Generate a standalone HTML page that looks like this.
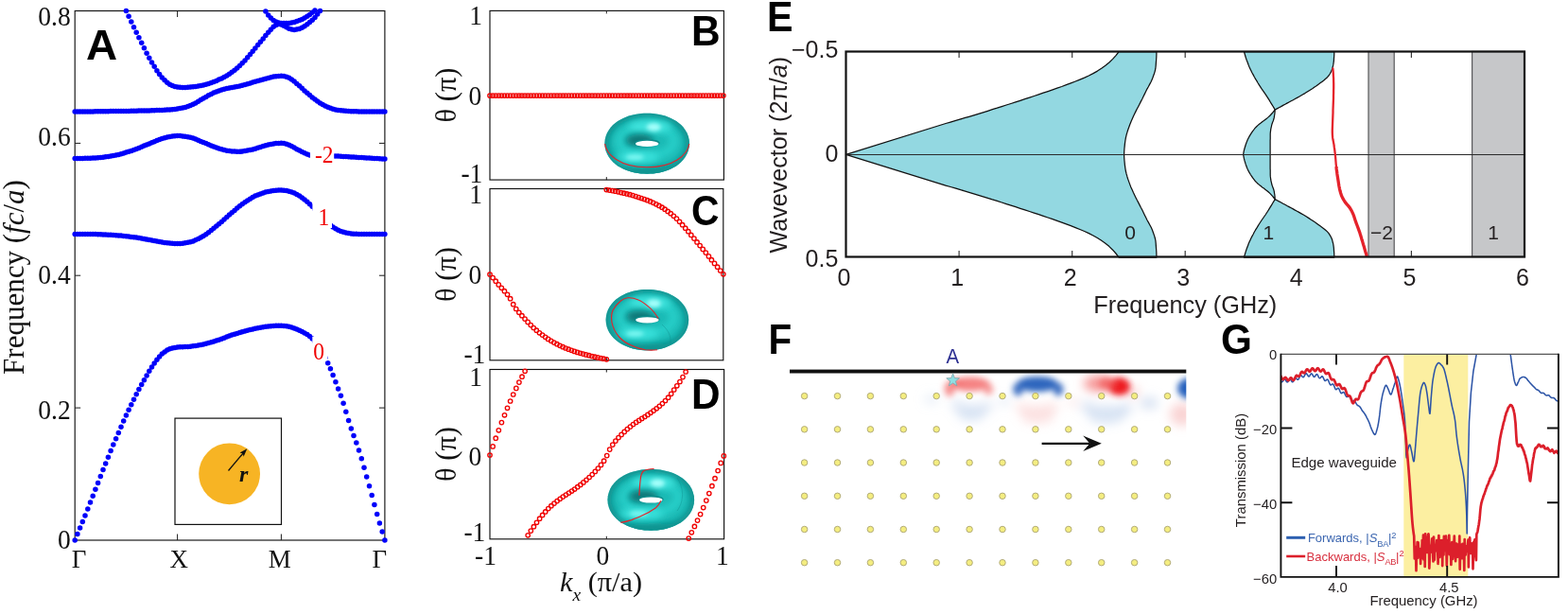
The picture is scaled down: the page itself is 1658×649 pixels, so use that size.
<!DOCTYPE html>
<html lang="en">
<head>
<meta charset="utf-8">
<title>Figure: photonic band structure, Chern numbers and edge-state transmission</title>
<style>
html,body{margin:0;padding:0;background:#fff;}
body{width:1658px;height:649px;overflow:hidden;font-family:"Liberation Sans","DejaVu Sans",sans-serif;}
svg{display:block;}
</style>
</head>
<body>
<svg width="1658" height="649" viewBox="0 0 1658 649">
<rect x="0" y="0" width="1658" height="649" fill="#ffffff"/>
<g id="panelA">
<rect x="79.2" y="11.5" width="327.7" height="559.5" fill="#fff" stroke="#111" stroke-width="1.15"/>
<path d="M79.2 431.1 h6 M406.9 431.1 h-6 M79.2 291.2 h6 M406.9 291.2 h-6 M79.2 151.4 h6 M406.9 151.4 h-6 M187.6 571.0 v-6.5 M187.6 11.5 v6.5 M297.4 571.0 v-6.5 M297.4 11.5 v6.5" stroke="#1a1a1a" stroke-width="1" fill="none"/>
<g fill="#0000fa"><circle cx="79.2" cy="571.0" r="2.75"/><circle cx="81.9" cy="564.6" r="2.75"/><circle cx="84.6" cy="558.1" r="2.75"/><circle cx="87.3" cy="551.6" r="2.75"/><circle cx="90.0" cy="544.9" r="2.75"/><circle cx="92.8" cy="538.1" r="2.75"/><circle cx="95.5" cy="531.1" r="2.75"/><circle cx="98.2" cy="524.2" r="2.75"/><circle cx="100.9" cy="517.3" r="2.75"/><circle cx="103.6" cy="510.4" r="2.75"/><circle cx="106.3" cy="503.5" r="2.75"/><circle cx="109.0" cy="496.6" r="2.75"/><circle cx="111.7" cy="489.9" r="2.75"/><circle cx="114.4" cy="483.2" r="2.75"/><circle cx="117.1" cy="476.6" r="2.75"/><circle cx="119.8" cy="470.1" r="2.75"/><circle cx="122.6" cy="463.7" r="2.75"/><circle cx="125.3" cy="457.4" r="2.75"/><circle cx="128.0" cy="451.2" r="2.75"/><circle cx="130.7" cy="445.1" r="2.75"/><circle cx="133.4" cy="439.1" r="2.75"/><circle cx="136.1" cy="433.3" r="2.75"/><circle cx="138.8" cy="427.7" r="2.75"/><circle cx="141.5" cy="422.2" r="2.75"/><circle cx="144.2" cy="416.8" r="2.75"/><circle cx="146.9" cy="411.6" r="2.75"/><circle cx="149.7" cy="406.6" r="2.75"/><circle cx="152.4" cy="401.7" r="2.75"/><circle cx="155.1" cy="396.9" r="2.75"/><circle cx="157.8" cy="392.3" r="2.75"/><circle cx="160.5" cy="387.9" r="2.75"/><circle cx="163.2" cy="384.0" r="2.75"/><circle cx="165.9" cy="380.3" r="2.75"/><circle cx="168.6" cy="376.9" r="2.75"/><circle cx="171.3" cy="374.1" r="2.75"/><circle cx="174.1" cy="371.9" r="2.75"/><circle cx="176.8" cy="370.0" r="2.75"/><circle cx="179.5" cy="368.7" r="2.75"/><circle cx="182.2" cy="367.9" r="2.75"/><circle cx="184.9" cy="367.4" r="2.75"/><circle cx="187.6" cy="367.0" r="2.75"/><circle cx="190.3" cy="366.8" r="2.75"/><circle cx="193.1" cy="366.7" r="2.75"/><circle cx="195.8" cy="366.6" r="2.75"/><circle cx="198.6" cy="366.4" r="2.75"/><circle cx="201.3" cy="366.2" r="2.75"/><circle cx="204.1" cy="365.8" r="2.75"/><circle cx="206.8" cy="365.4" r="2.75"/><circle cx="209.6" cy="364.9" r="2.75"/><circle cx="212.3" cy="364.4" r="2.75"/><circle cx="215.0" cy="363.9" r="2.75"/><circle cx="217.8" cy="363.2" r="2.75"/><circle cx="220.5" cy="362.5" r="2.75"/><circle cx="223.3" cy="361.8" r="2.75"/><circle cx="226.0" cy="361.0" r="2.75"/><circle cx="228.8" cy="360.1" r="2.75"/><circle cx="231.5" cy="359.2" r="2.75"/><circle cx="234.3" cy="358.2" r="2.75"/><circle cx="237.0" cy="357.2" r="2.75"/><circle cx="239.8" cy="356.1" r="2.75"/><circle cx="242.5" cy="355.1" r="2.75"/><circle cx="245.2" cy="354.1" r="2.75"/><circle cx="248.0" cy="353.2" r="2.75"/><circle cx="250.7" cy="352.4" r="2.75"/><circle cx="253.5" cy="351.6" r="2.75"/><circle cx="256.2" cy="350.8" r="2.75"/><circle cx="259.0" cy="350.0" r="2.75"/><circle cx="261.7" cy="349.3" r="2.75"/><circle cx="264.5" cy="348.5" r="2.75"/><circle cx="267.2" cy="347.9" r="2.75"/><circle cx="269.9" cy="347.3" r="2.75"/><circle cx="272.7" cy="346.7" r="2.75"/><circle cx="275.4" cy="346.2" r="2.75"/><circle cx="278.2" cy="345.8" r="2.75"/><circle cx="280.9" cy="345.3" r="2.75"/><circle cx="283.7" cy="345.0" r="2.75"/><circle cx="286.4" cy="344.7" r="2.75"/><circle cx="289.2" cy="344.4" r="2.75"/><circle cx="291.9" cy="344.3" r="2.75"/><circle cx="294.7" cy="344.2" r="2.75"/><circle cx="297.4" cy="344.2" r="2.75"/><circle cx="300.1" cy="344.4" r="2.75"/><circle cx="302.9" cy="344.8" r="2.75"/><circle cx="305.6" cy="345.3" r="2.75"/><circle cx="308.3" cy="346.1" r="2.75"/><circle cx="311.1" cy="347.1" r="2.75"/><circle cx="313.8" cy="348.1" r="2.75"/><circle cx="316.6" cy="349.3" r="2.75"/><circle cx="319.3" cy="350.5" r="2.75"/><circle cx="322.0" cy="352.0" r="2.75"/><circle cx="324.8" cy="353.6" r="2.75"/><circle cx="327.5" cy="355.5" r="2.75"/><circle cx="330.2" cy="358.0" r="2.75"/><circle cx="333.0" cy="361.1" r="2.75"/><circle cx="335.7" cy="364.8" r="2.75"/><circle cx="338.5" cy="368.7" r="2.75"/><circle cx="341.2" cy="373.1" r="2.75"/><circle cx="343.9" cy="378.2" r="2.75"/><circle cx="346.7" cy="383.8" r="2.75"/><circle cx="349.4" cy="389.8" r="2.75"/><circle cx="352.1" cy="396.6" r="2.75"/><circle cx="354.9" cy="403.7" r="2.75"/><circle cx="357.6" cy="410.9" r="2.75"/><circle cx="360.4" cy="418.3" r="2.75"/><circle cx="363.1" cy="426.3" r="2.75"/><circle cx="365.8" cy="435.3" r="2.75"/><circle cx="368.6" cy="444.5" r="2.75"/><circle cx="371.3" cy="452.9" r="2.75"/><circle cx="374.0" cy="460.6" r="2.75"/><circle cx="376.8" cy="468.1" r="2.75"/><circle cx="379.5" cy="476.0" r="2.75"/><circle cx="382.3" cy="484.8" r="2.75"/><circle cx="385.0" cy="494.2" r="2.75"/><circle cx="387.7" cy="504.0" r="2.75"/><circle cx="390.5" cy="513.7" r="2.75"/><circle cx="393.2" cy="523.6" r="2.75"/><circle cx="395.9" cy="533.6" r="2.75"/><circle cx="398.7" cy="543.4" r="2.75"/><circle cx="401.4" cy="552.9" r="2.75"/><circle cx="404.2" cy="562.1" r="2.75"/><circle cx="406.9" cy="571.0" r="2.75"/></g>
<g fill="#0000fa"><circle cx="79.2" cy="247.5" r="2.75"/><circle cx="81.9" cy="247.5" r="2.75"/><circle cx="84.6" cy="247.5" r="2.75"/><circle cx="87.3" cy="247.5" r="2.75"/><circle cx="90.0" cy="247.5" r="2.75"/><circle cx="92.8" cy="247.5" r="2.75"/><circle cx="95.5" cy="247.6" r="2.75"/><circle cx="98.2" cy="247.6" r="2.75"/><circle cx="100.9" cy="247.6" r="2.75"/><circle cx="103.6" cy="247.7" r="2.75"/><circle cx="106.3" cy="247.8" r="2.75"/><circle cx="109.0" cy="247.9" r="2.75"/><circle cx="111.7" cy="248.0" r="2.75"/><circle cx="114.4" cy="248.2" r="2.75"/><circle cx="117.1" cy="248.3" r="2.75"/><circle cx="119.8" cy="248.5" r="2.75"/><circle cx="122.6" cy="248.7" r="2.75"/><circle cx="125.3" cy="248.9" r="2.75"/><circle cx="128.0" cy="249.1" r="2.75"/><circle cx="130.7" cy="249.4" r="2.75"/><circle cx="133.4" cy="249.7" r="2.75"/><circle cx="136.1" cy="250.0" r="2.75"/><circle cx="138.8" cy="250.4" r="2.75"/><circle cx="141.5" cy="250.7" r="2.75"/><circle cx="144.2" cy="251.1" r="2.75"/><circle cx="146.9" cy="251.6" r="2.75"/><circle cx="149.7" cy="252.1" r="2.75"/><circle cx="152.4" cy="252.6" r="2.75"/><circle cx="155.1" cy="253.1" r="2.75"/><circle cx="157.8" cy="253.6" r="2.75"/><circle cx="160.5" cy="254.1" r="2.75"/><circle cx="163.2" cy="254.6" r="2.75"/><circle cx="165.9" cy="255.1" r="2.75"/><circle cx="168.6" cy="255.6" r="2.75"/><circle cx="171.3" cy="256.0" r="2.75"/><circle cx="174.1" cy="256.4" r="2.75"/><circle cx="176.8" cy="256.7" r="2.75"/><circle cx="179.5" cy="257.0" r="2.75"/><circle cx="182.2" cy="257.2" r="2.75"/><circle cx="184.9" cy="257.4" r="2.75"/><circle cx="187.6" cy="257.5" r="2.75"/><circle cx="190.3" cy="257.4" r="2.75"/><circle cx="193.1" cy="257.2" r="2.75"/><circle cx="195.8" cy="256.8" r="2.75"/><circle cx="198.6" cy="256.3" r="2.75"/><circle cx="201.3" cy="255.7" r="2.75"/><circle cx="204.1" cy="254.9" r="2.75"/><circle cx="206.8" cy="253.7" r="2.75"/><circle cx="209.6" cy="252.4" r="2.75"/><circle cx="212.3" cy="251.0" r="2.75"/><circle cx="215.0" cy="249.5" r="2.75"/><circle cx="217.8" cy="247.8" r="2.75"/><circle cx="220.5" cy="245.8" r="2.75"/><circle cx="223.3" cy="243.6" r="2.75"/><circle cx="226.0" cy="241.3" r="2.75"/><circle cx="228.8" cy="239.0" r="2.75"/><circle cx="231.5" cy="236.7" r="2.75"/><circle cx="234.3" cy="234.4" r="2.75"/><circle cx="237.0" cy="232.0" r="2.75"/><circle cx="239.8" cy="229.5" r="2.75"/><circle cx="242.5" cy="227.1" r="2.75"/><circle cx="245.2" cy="224.8" r="2.75"/><circle cx="248.0" cy="222.5" r="2.75"/><circle cx="250.7" cy="220.1" r="2.75"/><circle cx="253.5" cy="217.8" r="2.75"/><circle cx="256.2" cy="215.7" r="2.75"/><circle cx="259.0" cy="213.7" r="2.75"/><circle cx="261.7" cy="211.9" r="2.75"/><circle cx="264.5" cy="210.2" r="2.75"/><circle cx="267.2" cy="208.6" r="2.75"/><circle cx="269.9" cy="207.1" r="2.75"/><circle cx="272.7" cy="205.9" r="2.75"/><circle cx="275.4" cy="204.9" r="2.75"/><circle cx="278.2" cy="203.9" r="2.75"/><circle cx="280.9" cy="203.1" r="2.75"/><circle cx="283.7" cy="202.4" r="2.75"/><circle cx="286.4" cy="201.9" r="2.75"/><circle cx="289.2" cy="201.6" r="2.75"/><circle cx="291.9" cy="201.3" r="2.75"/><circle cx="294.7" cy="201.1" r="2.75"/><circle cx="297.4" cy="201.0" r="2.75"/><circle cx="300.1" cy="201.2" r="2.75"/><circle cx="302.9" cy="201.6" r="2.75"/><circle cx="305.6" cy="202.2" r="2.75"/><circle cx="308.3" cy="202.9" r="2.75"/><circle cx="311.1" cy="204.0" r="2.75"/><circle cx="313.8" cy="205.5" r="2.75"/><circle cx="316.6" cy="207.1" r="2.75"/><circle cx="319.3" cy="208.9" r="2.75"/><circle cx="322.0" cy="210.9" r="2.75"/><circle cx="324.8" cy="213.2" r="2.75"/><circle cx="327.5" cy="215.7" r="2.75"/><circle cx="330.2" cy="218.2" r="2.75"/><circle cx="333.0" cy="221.1" r="2.75"/><circle cx="335.7" cy="224.1" r="2.75"/><circle cx="338.5" cy="227.2" r="2.75"/><circle cx="341.2" cy="230.2" r="2.75"/><circle cx="343.9" cy="232.9" r="2.75"/><circle cx="346.7" cy="235.6" r="2.75"/><circle cx="349.4" cy="238.1" r="2.75"/><circle cx="352.1" cy="240.1" r="2.75"/><circle cx="354.9" cy="241.8" r="2.75"/><circle cx="357.6" cy="243.3" r="2.75"/><circle cx="360.4" cy="244.5" r="2.75"/><circle cx="363.1" cy="245.3" r="2.75"/><circle cx="365.8" cy="246.0" r="2.75"/><circle cx="368.6" cy="246.6" r="2.75"/><circle cx="371.3" cy="247.0" r="2.75"/><circle cx="374.0" cy="247.3" r="2.75"/><circle cx="376.8" cy="247.3" r="2.75"/><circle cx="379.5" cy="247.4" r="2.75"/><circle cx="382.3" cy="247.4" r="2.75"/><circle cx="385.0" cy="247.5" r="2.75"/><circle cx="387.7" cy="247.5" r="2.75"/><circle cx="390.5" cy="247.5" r="2.75"/><circle cx="393.2" cy="247.5" r="2.75"/><circle cx="395.9" cy="247.5" r="2.75"/><circle cx="398.7" cy="247.5" r="2.75"/><circle cx="401.4" cy="247.5" r="2.75"/><circle cx="404.2" cy="247.5" r="2.75"/><circle cx="406.9" cy="247.5" r="2.75"/></g>
<g fill="#0000fa"><circle cx="79.2" cy="167.5" r="2.75"/><circle cx="81.9" cy="167.5" r="2.75"/><circle cx="84.6" cy="167.5" r="2.75"/><circle cx="87.3" cy="167.4" r="2.75"/><circle cx="90.0" cy="167.3" r="2.75"/><circle cx="92.8" cy="167.3" r="2.75"/><circle cx="95.5" cy="167.2" r="2.75"/><circle cx="98.2" cy="167.1" r="2.75"/><circle cx="100.9" cy="167.0" r="2.75"/><circle cx="103.6" cy="166.8" r="2.75"/><circle cx="106.3" cy="166.5" r="2.75"/><circle cx="109.0" cy="166.2" r="2.75"/><circle cx="111.7" cy="165.8" r="2.75"/><circle cx="114.4" cy="165.4" r="2.75"/><circle cx="117.1" cy="165.0" r="2.75"/><circle cx="119.8" cy="164.5" r="2.75"/><circle cx="122.6" cy="164.0" r="2.75"/><circle cx="125.3" cy="163.4" r="2.75"/><circle cx="128.0" cy="162.7" r="2.75"/><circle cx="130.7" cy="161.9" r="2.75"/><circle cx="133.4" cy="161.1" r="2.75"/><circle cx="136.1" cy="160.3" r="2.75"/><circle cx="138.8" cy="159.4" r="2.75"/><circle cx="141.5" cy="158.5" r="2.75"/><circle cx="144.2" cy="157.5" r="2.75"/><circle cx="146.9" cy="156.4" r="2.75"/><circle cx="149.7" cy="155.3" r="2.75"/><circle cx="152.4" cy="154.1" r="2.75"/><circle cx="155.1" cy="153.0" r="2.75"/><circle cx="157.8" cy="151.9" r="2.75"/><circle cx="160.5" cy="150.8" r="2.75"/><circle cx="163.2" cy="149.7" r="2.75"/><circle cx="165.9" cy="148.6" r="2.75"/><circle cx="168.6" cy="147.5" r="2.75"/><circle cx="171.3" cy="146.5" r="2.75"/><circle cx="174.1" cy="145.7" r="2.75"/><circle cx="176.8" cy="145.1" r="2.75"/><circle cx="179.5" cy="144.5" r="2.75"/><circle cx="182.2" cy="144.0" r="2.75"/><circle cx="184.9" cy="143.7" r="2.75"/><circle cx="187.6" cy="143.5" r="2.75"/><circle cx="190.3" cy="143.6" r="2.75"/><circle cx="193.1" cy="143.9" r="2.75"/><circle cx="195.8" cy="144.3" r="2.75"/><circle cx="198.6" cy="144.7" r="2.75"/><circle cx="201.3" cy="145.3" r="2.75"/><circle cx="204.1" cy="146.1" r="2.75"/><circle cx="206.8" cy="147.1" r="2.75"/><circle cx="209.6" cy="148.2" r="2.75"/><circle cx="212.3" cy="149.4" r="2.75"/><circle cx="215.0" cy="150.5" r="2.75"/><circle cx="217.8" cy="151.6" r="2.75"/><circle cx="220.5" cy="152.8" r="2.75"/><circle cx="223.3" cy="154.0" r="2.75"/><circle cx="226.0" cy="155.1" r="2.75"/><circle cx="228.8" cy="156.1" r="2.75"/><circle cx="231.5" cy="157.0" r="2.75"/><circle cx="234.3" cy="157.8" r="2.75"/><circle cx="237.0" cy="158.5" r="2.75"/><circle cx="239.8" cy="159.2" r="2.75"/><circle cx="242.5" cy="159.6" r="2.75"/><circle cx="245.2" cy="159.9" r="2.75"/><circle cx="248.0" cy="160.1" r="2.75"/><circle cx="250.7" cy="160.3" r="2.75"/><circle cx="253.5" cy="160.3" r="2.75"/><circle cx="256.2" cy="160.0" r="2.75"/><circle cx="259.0" cy="159.6" r="2.75"/><circle cx="261.7" cy="159.1" r="2.75"/><circle cx="264.5" cy="158.6" r="2.75"/><circle cx="267.2" cy="158.0" r="2.75"/><circle cx="269.9" cy="157.2" r="2.75"/><circle cx="272.7" cy="156.3" r="2.75"/><circle cx="275.4" cy="155.4" r="2.75"/><circle cx="278.2" cy="154.5" r="2.75"/><circle cx="280.9" cy="153.8" r="2.75"/><circle cx="283.7" cy="153.0" r="2.75"/><circle cx="286.4" cy="152.4" r="2.75"/><circle cx="289.2" cy="151.9" r="2.75"/><circle cx="291.9" cy="151.6" r="2.75"/><circle cx="294.7" cy="151.4" r="2.75"/><circle cx="297.4" cy="151.3" r="2.75"/><circle cx="300.1" cy="151.6" r="2.75"/><circle cx="302.9" cy="152.3" r="2.75"/><circle cx="305.6" cy="153.2" r="2.75"/><circle cx="308.3" cy="154.5" r="2.75"/><circle cx="311.1" cy="156.0" r="2.75"/><circle cx="313.8" cy="157.7" r="2.75"/><circle cx="316.6" cy="159.1" r="2.75"/><circle cx="319.3" cy="160.5" r="2.75"/><circle cx="322.0" cy="161.8" r="2.75"/><circle cx="324.8" cy="163.0" r="2.75"/><circle cx="327.5" cy="163.9" r="2.75"/><circle cx="330.2" cy="164.2" r="2.75"/><circle cx="333.0" cy="164.4" r="2.75"/><circle cx="335.7" cy="164.5" r="2.75"/><circle cx="338.5" cy="164.6" r="2.75"/><circle cx="341.2" cy="164.6" r="2.75"/><circle cx="343.9" cy="164.7" r="2.75"/><circle cx="346.7" cy="164.7" r="2.75"/><circle cx="349.4" cy="164.8" r="2.75"/><circle cx="352.1" cy="164.9" r="2.75"/><circle cx="354.9" cy="165.0" r="2.75"/><circle cx="357.6" cy="165.1" r="2.75"/><circle cx="360.4" cy="165.2" r="2.75"/><circle cx="363.1" cy="165.4" r="2.75"/><circle cx="365.8" cy="165.6" r="2.75"/><circle cx="368.6" cy="165.8" r="2.75"/><circle cx="371.3" cy="166.0" r="2.75"/><circle cx="374.0" cy="166.1" r="2.75"/><circle cx="376.8" cy="166.3" r="2.75"/><circle cx="379.5" cy="166.5" r="2.75"/><circle cx="382.3" cy="166.6" r="2.75"/><circle cx="385.0" cy="166.8" r="2.75"/><circle cx="387.7" cy="167.0" r="2.75"/><circle cx="390.5" cy="167.1" r="2.75"/><circle cx="393.2" cy="167.3" r="2.75"/><circle cx="395.9" cy="167.4" r="2.75"/><circle cx="398.7" cy="167.6" r="2.75"/><circle cx="401.4" cy="167.7" r="2.75"/><circle cx="404.2" cy="167.9" r="2.75"/><circle cx="406.9" cy="168.0" r="2.75"/></g>
<g fill="#0000fa"><circle cx="79.2" cy="118.0" r="2.75"/><circle cx="81.9" cy="118.0" r="2.75"/><circle cx="84.6" cy="118.0" r="2.75"/><circle cx="87.3" cy="118.0" r="2.75"/><circle cx="90.0" cy="117.9" r="2.75"/><circle cx="92.8" cy="117.9" r="2.75"/><circle cx="95.5" cy="117.9" r="2.75"/><circle cx="98.2" cy="117.9" r="2.75"/><circle cx="100.9" cy="117.8" r="2.75"/><circle cx="103.6" cy="117.8" r="2.75"/><circle cx="106.3" cy="117.8" r="2.75"/><circle cx="109.0" cy="117.7" r="2.75"/><circle cx="111.7" cy="117.7" r="2.75"/><circle cx="114.4" cy="117.7" r="2.75"/><circle cx="117.1" cy="117.6" r="2.75"/><circle cx="119.8" cy="117.6" r="2.75"/><circle cx="122.6" cy="117.6" r="2.75"/><circle cx="125.3" cy="117.5" r="2.75"/><circle cx="128.0" cy="117.5" r="2.75"/><circle cx="130.7" cy="117.4" r="2.75"/><circle cx="133.4" cy="117.4" r="2.75"/><circle cx="136.1" cy="117.4" r="2.75"/><circle cx="138.8" cy="117.3" r="2.75"/><circle cx="141.5" cy="117.3" r="2.75"/><circle cx="144.2" cy="117.2" r="2.75"/><circle cx="146.9" cy="117.1" r="2.75"/><circle cx="149.7" cy="117.1" r="2.75"/><circle cx="152.4" cy="117.0" r="2.75"/><circle cx="155.1" cy="116.9" r="2.75"/><circle cx="157.8" cy="116.9" r="2.75"/><circle cx="160.5" cy="116.8" r="2.75"/><circle cx="163.2" cy="116.7" r="2.75"/><circle cx="165.9" cy="116.6" r="2.75"/><circle cx="168.6" cy="116.5" r="2.75"/><circle cx="171.3" cy="116.4" r="2.75"/><circle cx="174.1" cy="116.3" r="2.75"/><circle cx="176.8" cy="116.1" r="2.75"/><circle cx="179.5" cy="115.9" r="2.75"/><circle cx="182.2" cy="115.7" r="2.75"/><circle cx="184.9" cy="115.4" r="2.75"/><circle cx="187.6" cy="115.1" r="2.75"/><circle cx="190.3" cy="114.6" r="2.75"/><circle cx="193.1" cy="114.1" r="2.75"/><circle cx="195.8" cy="113.4" r="2.75"/><circle cx="198.6" cy="112.5" r="2.75"/><circle cx="201.3" cy="111.5" r="2.75"/><circle cx="204.1" cy="110.3" r="2.75"/><circle cx="206.8" cy="108.9" r="2.75"/><circle cx="209.6" cy="107.3" r="2.75"/><circle cx="212.3" cy="105.6" r="2.75"/><circle cx="215.0" cy="104.0" r="2.75"/><circle cx="217.8" cy="102.4" r="2.75"/><circle cx="220.5" cy="100.8" r="2.75"/><circle cx="223.3" cy="99.4" r="2.75"/><circle cx="226.0" cy="98.1" r="2.75"/><circle cx="228.8" cy="97.0" r="2.75"/><circle cx="231.5" cy="96.0" r="2.75"/><circle cx="234.3" cy="95.1" r="2.75"/><circle cx="237.0" cy="94.3" r="2.75"/><circle cx="239.8" cy="93.6" r="2.75"/><circle cx="242.5" cy="93.0" r="2.75"/><circle cx="245.2" cy="92.4" r="2.75"/><circle cx="248.0" cy="91.9" r="2.75"/><circle cx="250.7" cy="91.4" r="2.75"/><circle cx="253.5" cy="90.9" r="2.75"/><circle cx="256.2" cy="90.2" r="2.75"/><circle cx="259.0" cy="89.5" r="2.75"/><circle cx="261.7" cy="88.7" r="2.75"/><circle cx="264.5" cy="87.9" r="2.75"/><circle cx="267.2" cy="87.1" r="2.75"/><circle cx="269.9" cy="86.3" r="2.75"/><circle cx="272.7" cy="85.5" r="2.75"/><circle cx="275.4" cy="84.8" r="2.75"/><circle cx="278.2" cy="84.0" r="2.75"/><circle cx="280.9" cy="83.2" r="2.75"/><circle cx="283.7" cy="82.5" r="2.75"/><circle cx="286.4" cy="81.7" r="2.75"/><circle cx="289.2" cy="81.1" r="2.75"/><circle cx="291.9" cy="80.7" r="2.75"/><circle cx="294.7" cy="80.4" r="2.75"/><circle cx="297.4" cy="80.2" r="2.75"/><circle cx="300.1" cy="80.5" r="2.75"/><circle cx="302.9" cy="81.3" r="2.75"/><circle cx="305.6" cy="82.2" r="2.75"/><circle cx="308.3" cy="83.9" r="2.75"/><circle cx="311.1" cy="86.1" r="2.75"/><circle cx="313.8" cy="88.5" r="2.75"/><circle cx="316.6" cy="90.8" r="2.75"/><circle cx="319.3" cy="93.3" r="2.75"/><circle cx="322.0" cy="95.9" r="2.75"/><circle cx="324.8" cy="98.3" r="2.75"/><circle cx="327.5" cy="100.6" r="2.75"/><circle cx="330.2" cy="102.9" r="2.75"/><circle cx="333.0" cy="105.1" r="2.75"/><circle cx="335.7" cy="107.0" r="2.75"/><circle cx="338.5" cy="108.9" r="2.75"/><circle cx="341.2" cy="110.6" r="2.75"/><circle cx="343.9" cy="112.0" r="2.75"/><circle cx="346.7" cy="113.2" r="2.75"/><circle cx="349.4" cy="114.2" r="2.75"/><circle cx="352.1" cy="115.2" r="2.75"/><circle cx="354.9" cy="115.9" r="2.75"/><circle cx="357.6" cy="116.5" r="2.75"/><circle cx="360.4" cy="116.8" r="2.75"/><circle cx="363.1" cy="117.1" r="2.75"/><circle cx="365.8" cy="117.3" r="2.75"/><circle cx="368.6" cy="117.5" r="2.75"/><circle cx="371.3" cy="117.7" r="2.75"/><circle cx="374.0" cy="117.8" r="2.75"/><circle cx="376.8" cy="117.8" r="2.75"/><circle cx="379.5" cy="117.9" r="2.75"/><circle cx="382.3" cy="117.9" r="2.75"/><circle cx="385.0" cy="117.9" r="2.75"/><circle cx="387.7" cy="117.9" r="2.75"/><circle cx="390.5" cy="117.9" r="2.75"/><circle cx="393.2" cy="118.0" r="2.75"/><circle cx="395.9" cy="118.0" r="2.75"/><circle cx="398.7" cy="118.0" r="2.75"/><circle cx="401.4" cy="118.0" r="2.75"/><circle cx="404.2" cy="118.0" r="2.75"/><circle cx="406.9" cy="118.0" r="2.75"/></g>
<g fill="#0000fa"><circle cx="133.4" cy="11.4" r="2.75"/><circle cx="136.1" cy="17.2" r="2.75"/><circle cx="138.8" cy="23.0" r="2.75"/><circle cx="141.5" cy="28.7" r="2.75"/><circle cx="144.2" cy="34.3" r="2.75"/><circle cx="146.9" cy="39.8" r="2.75"/><circle cx="149.7" cy="45.3" r="2.75"/><circle cx="152.4" cy="50.8" r="2.75"/><circle cx="155.1" cy="56.2" r="2.75"/><circle cx="157.8" cy="61.2" r="2.75"/><circle cx="160.5" cy="65.9" r="2.75"/><circle cx="163.2" cy="70.3" r="2.75"/><circle cx="165.9" cy="74.7" r="2.75"/><circle cx="168.6" cy="78.6" r="2.75"/><circle cx="171.3" cy="82.0" r="2.75"/><circle cx="174.1" cy="84.8" r="2.75"/><circle cx="176.8" cy="87.3" r="2.75"/><circle cx="179.5" cy="89.2" r="2.75"/><circle cx="182.2" cy="90.6" r="2.75"/><circle cx="184.9" cy="91.6" r="2.75"/><circle cx="187.6" cy="92.1" r="2.75"/><circle cx="190.3" cy="92.3" r="2.75"/><circle cx="193.1" cy="92.5" r="2.75"/><circle cx="195.8" cy="92.5" r="2.75"/><circle cx="198.6" cy="92.3" r="2.75"/><circle cx="201.3" cy="92.1" r="2.75"/><circle cx="204.1" cy="91.7" r="2.75"/><circle cx="206.8" cy="91.4" r="2.75"/><circle cx="209.6" cy="91.0" r="2.75"/><circle cx="212.3" cy="90.4" r="2.75"/><circle cx="215.0" cy="89.9" r="2.75"/><circle cx="217.8" cy="89.2" r="2.75"/><circle cx="220.5" cy="88.5" r="2.75"/><circle cx="223.3" cy="87.5" r="2.75"/><circle cx="226.0" cy="86.5" r="2.75"/><circle cx="228.8" cy="85.4" r="2.75"/><circle cx="231.5" cy="84.1" r="2.75"/><circle cx="234.3" cy="82.9" r="2.75"/><circle cx="237.0" cy="81.4" r="2.75"/><circle cx="239.8" cy="79.9" r="2.75"/><circle cx="242.5" cy="78.2" r="2.75"/><circle cx="245.2" cy="76.3" r="2.75"/><circle cx="248.0" cy="74.2" r="2.75"/><circle cx="250.7" cy="71.9" r="2.75"/><circle cx="253.5" cy="69.4" r="2.75"/><circle cx="256.2" cy="66.7" r="2.75"/><circle cx="259.0" cy="63.9" r="2.75"/><circle cx="261.7" cy="60.8" r="2.75"/><circle cx="264.5" cy="57.6" r="2.75"/><circle cx="267.2" cy="54.3" r="2.75"/><circle cx="269.9" cy="51.0" r="2.75"/><circle cx="272.7" cy="47.6" r="2.75"/><circle cx="275.4" cy="44.3" r="2.75"/><circle cx="278.2" cy="40.9" r="2.75"/><circle cx="280.9" cy="37.5" r="2.75"/><circle cx="283.7" cy="34.3" r="2.75"/><circle cx="286.4" cy="31.2" r="2.75"/><circle cx="289.2" cy="28.3" r="2.75"/><circle cx="291.9" cy="26.4" r="2.75"/><circle cx="294.7" cy="25.6" r="2.75"/><circle cx="297.4" cy="26.1" r="2.75"/><circle cx="300.1" cy="27.2" r="2.75"/><circle cx="302.9" cy="28.7" r="2.75"/><circle cx="305.6" cy="30.2" r="2.75"/><circle cx="308.3" cy="31.1" r="2.75"/><circle cx="311.1" cy="31.5" r="2.75"/><circle cx="313.8" cy="31.1" r="2.75"/><circle cx="316.6" cy="30.4" r="2.75"/><circle cx="319.3" cy="29.2" r="2.75"/><circle cx="322.0" cy="27.7" r="2.75"/><circle cx="324.8" cy="25.8" r="2.75"/><circle cx="327.5" cy="23.6" r="2.75"/><circle cx="330.2" cy="21.3" r="2.75"/><circle cx="333.0" cy="18.5" r="2.75"/><circle cx="335.7" cy="15.1" r="2.75"/><circle cx="338.5" cy="11.4" r="2.75"/></g>
<g fill="#0000fa"><circle cx="280.9" cy="12.0" r="2.75"/><circle cx="283.7" cy="16.0" r="2.75"/><circle cx="286.4" cy="19.0" r="2.75"/><circle cx="289.2" cy="21.4" r="2.75"/><circle cx="291.9" cy="23.0" r="2.75"/><circle cx="294.7" cy="24.0" r="2.75"/><circle cx="297.4" cy="24.5" r="2.75"/><circle cx="300.1" cy="24.6" r="2.75"/><circle cx="302.9" cy="24.6" r="2.75"/><circle cx="305.6" cy="24.4" r="2.75"/><circle cx="308.3" cy="24.0" r="2.75"/><circle cx="311.1" cy="23.4" r="2.75"/><circle cx="313.8" cy="22.5" r="2.75"/><circle cx="316.6" cy="21.6" r="2.75"/><circle cx="319.3" cy="20.4" r="2.75"/><circle cx="322.0" cy="19.0" r="2.75"/><circle cx="324.8" cy="17.3" r="2.75"/><circle cx="327.5" cy="15.5" r="2.75"/><circle cx="330.2" cy="13.3" r="2.75"/><circle cx="333.0" cy="11.0" r="2.75"/></g>
<rect x="330.3" y="356" width="16.0" height="25.19999999999999" fill="#fff"/>
<text transform="translate(337 379.8) scale(1 1.085)" font-family="'Liberation Serif','DejaVu Serif',serif" font-size="23.5" fill="#f00000" text-anchor="middle">0</text>
<rect x="330.4" y="212" width="20.600000000000023" height="29" fill="#fff"/>
<text transform="translate(342.4 237.8) scale(1 1.085)" font-family="'Liberation Serif','DejaVu Serif',serif" font-size="23.5" fill="#f00000" text-anchor="middle">1</text>
<rect x="328" y="156" width="25.19999999999999" height="22" fill="#fff"/>
<text transform="translate(342.7 171.5) scale(1 1.085)" font-family="'Liberation Serif','DejaVu Serif',serif" font-size="23.5" fill="#f00000" text-anchor="middle">-2</text>
<rect x="185" y="442.1" width="112.5" height="112.3" fill="#fff" stroke="#111" stroke-width="1.2"/>
<circle cx="242.6" cy="500.8" r="32.4" fill="#f7b424"/>
<path d="M241.5 497.5 L258 478" stroke="#111" stroke-width="1.3" fill="none"/>
<path d="M261.3 474.3 L253.6 478.4 L256.8 479.6 L257.6 482.8 Z" fill="#111"/>
<text x="253" y="508.5" font-family="'Liberation Serif','DejaVu Serif',serif" font-size="24" font-style="italic" font-weight="bold" fill="#111">r</text>
<text transform="translate(74.7 27.2) scale(1 1.085)" font-family="'Liberation Serif','DejaVu Serif',serif" font-size="27.5" fill="#111" text-anchor="end">0.8</text>
<text transform="translate(74.7 153.5) scale(1 1.085)" font-family="'Liberation Serif','DejaVu Serif',serif" font-size="27.5" fill="#111" text-anchor="end">0.6</text>
<text transform="translate(74.7 299.7) scale(1 1.085)" font-family="'Liberation Serif','DejaVu Serif',serif" font-size="27.5" fill="#111" text-anchor="end">0.4</text>
<text transform="translate(74.7 442.6) scale(1 1.085)" font-family="'Liberation Serif','DejaVu Serif',serif" font-size="27.5" fill="#111" text-anchor="end">0.2</text>
<text transform="translate(74.7 580.2) scale(1 1.085)" font-family="'Liberation Serif','DejaVu Serif',serif" font-size="27.5" fill="#111" text-anchor="end">0</text>
<text transform="translate(83.6 600) scale(1 1.03)" font-family="'Liberation Serif','DejaVu Serif',serif" font-size="27" fill="#111" text-anchor="middle">Γ</text>
<text transform="translate(189.2 600) scale(1 1.03)" font-family="'Liberation Serif','DejaVu Serif',serif" font-size="27" fill="#111" text-anchor="middle">X</text>
<text transform="translate(295.8 600) scale(1 1.03)" font-family="'Liberation Serif','DejaVu Serif',serif" font-size="27" fill="#111" text-anchor="middle">M</text>
<text transform="translate(401.2 600) scale(1 1.03)" font-family="'Liberation Serif','DejaVu Serif',serif" font-size="27" fill="#111" text-anchor="middle">Γ</text>
<text transform="translate(25 293) rotate(-90)" font-family="'Liberation Serif','DejaVu Serif',serif" font-size="31" fill="#111" text-anchor="middle">Frequency (<tspan font-style="italic">fc</tspan>/<tspan font-style="italic">a</tspan>)</text>
<text transform="translate(90.9 62.8) scale(1.066 1.035)" font-family="'Liberation Sans','DejaVu Sans',sans-serif" font-size="43" font-weight="bold" fill="#000">A</text>
</g>
<defs><filter id="blur1" x="-50%" y="-50%" width="200%" height="200%"><feGaussianBlur stdDeviation="0.7"/></filter><filter id="blur2" x="-50%" y="-50%" width="200%" height="200%"><feGaussianBlur stdDeviation="2"/></filter><filter id="blur3" x="-50%" y="-50%" width="200%" height="200%"><feGaussianBlur stdDeviation="3.5"/></filter></defs>
<g id="panelBCD">
<rect x="518.0" y="11.4" width="247.39999999999998" height="178.7" fill="#fff" stroke="#111" stroke-width="1.15"/><path d="M641.3 11.4 v3 M641.3 190.1 v-3" stroke="#1a1a1a" stroke-width="1" fill="none"/>
<clipPath id="tc1"><path d="M729.0 151.7 L728.7 155.6 L727.8 159.3 L726.4 162.8 L724.6 166.0 L722.5 168.8 L720.2 171.3 L717.7 173.4 L715.1 175.4 L712.3 177.0 L709.4 178.5 L706.5 179.7 L703.5 180.8 L700.4 181.7 L697.2 182.4 L694.0 183.0 L690.7 183.4 L687.5 183.6 L684.2 183.7 L680.9 183.6 L677.7 183.4 L674.4 183.0 L671.2 182.4 L668.0 181.7 L664.9 180.8 L661.9 179.7 L659.0 178.5 L656.1 177.0 L653.3 175.4 L650.7 173.4 L648.2 171.3 L645.9 168.8 L643.8 166.0 L642.0 162.8 L640.6 159.3 L639.7 155.6 L639.4 151.7 L639.7 147.8 L640.6 144.1 L642.0 140.6 L643.8 137.4 L645.9 134.6 L648.2 132.1 L650.7 130.0 L653.3 128.0 L656.1 126.4 L659.0 124.9 L661.9 123.7 L664.9 122.6 L668.0 121.7 L671.2 121.0 L674.4 120.4 L677.7 120.0 L680.9 119.8 L684.2 119.7 L687.5 119.8 L690.7 120.0 L694.0 120.4 L697.2 121.0 L700.4 121.7 L703.5 122.6 L706.5 123.7 L709.4 124.9 L712.3 126.4 L715.1 128.0 L717.7 130.0 L720.2 132.1 L722.5 134.6 L724.6 137.4 L726.4 140.6 L727.8 144.1 L728.7 147.8Z"/></clipPath>
<path d="M729.0 151.7 L728.7 155.6 L727.8 159.3 L726.4 162.8 L724.6 166.0 L722.5 168.8 L720.2 171.3 L717.7 173.4 L715.1 175.4 L712.3 177.0 L709.4 178.5 L706.5 179.7 L703.5 180.8 L700.4 181.7 L697.2 182.4 L694.0 183.0 L690.7 183.4 L687.5 183.6 L684.2 183.7 L680.9 183.6 L677.7 183.4 L674.4 183.0 L671.2 182.4 L668.0 181.7 L664.9 180.8 L661.9 179.7 L659.0 178.5 L656.1 177.0 L653.3 175.4 L650.7 173.4 L648.2 171.3 L645.9 168.8 L643.8 166.0 L642.0 162.8 L640.6 159.3 L639.7 155.6 L639.4 151.7 L639.7 147.8 L640.6 144.1 L642.0 140.6 L643.8 137.4 L645.9 134.6 L648.2 132.1 L650.7 130.0 L653.3 128.0 L656.1 126.4 L659.0 124.9 L661.9 123.7 L664.9 122.6 L668.0 121.7 L671.2 121.0 L674.4 120.4 L677.7 120.0 L680.9 119.8 L684.2 119.7 L687.5 119.8 L690.7 120.0 L694.0 120.4 L697.2 121.0 L700.4 121.7 L703.5 122.6 L706.5 123.7 L709.4 124.9 L712.3 126.4 L715.1 128.0 L717.7 130.0 L720.2 132.1 L722.5 134.6 L724.6 137.4 L726.4 140.6 L727.8 144.1 L728.7 147.8Z" fill="#1cbab5"/>
<g clip-path="url(#tc1)">
<path d="M729.0 151.7 L728.7 155.6 L727.8 159.3 L726.4 162.8 L724.6 166.0 L722.5 168.8 L720.2 171.3 L717.7 173.4 L715.1 175.4 L712.3 177.0 L709.4 178.5 L706.5 179.7 L703.5 180.8 L700.4 181.7 L697.2 182.4 L694.0 183.0 L690.7 183.4 L687.5 183.6 L684.2 183.7 L680.9 183.6 L677.7 183.4 L674.4 183.0 L671.2 182.4 L668.0 181.7 L664.9 180.8 L661.9 179.7 L659.0 178.5 L656.1 177.0 L653.3 175.4 L650.7 173.4 L648.2 171.3 L645.9 168.8 L643.8 166.0 L642.0 162.8 L640.6 159.3 L639.7 155.6 L639.4 151.7 L639.7 147.8 L640.6 144.1 L642.0 140.6 L643.8 137.4 L645.9 134.6 L648.2 132.1 L650.7 130.0 L653.3 128.0 L656.1 126.4 L659.0 124.9 L661.9 123.7 L664.9 122.6 L668.0 121.7 L671.2 121.0 L674.4 120.4 L677.7 120.0 L680.9 119.8 L684.2 119.7 L687.5 119.8 L690.7 120.0 L694.0 120.4 L697.2 121.0 L700.4 121.7 L703.5 122.6 L706.5 123.7 L709.4 124.9 L712.3 126.4 L715.1 128.0 L717.7 130.0 L720.2 132.1 L722.5 134.6 L724.6 137.4 L726.4 140.6 L727.8 144.1 L728.7 147.8Z" fill="none" stroke="#0b8785" stroke-width="7" filter="url(#blur3)"/>
<ellipse cx="688.2" cy="182.73999999999998" rx="33.599999999999994" ry="6.4" fill="#0e9491" filter="url(#blur3)"/>
<ellipse cx="684.2" cy="149.2" rx="28.7" ry="15.900000000000002" fill="none" stroke="#25cfc9" stroke-width="9" filter="url(#blur3)"/>
<ellipse cx="687.2" cy="133.77999999999997" rx="22.4" ry="6.4" fill="#3fe4de" filter="url(#blur3)"/>
<ellipse cx="691.2" cy="134.42" rx="7.616" ry="4.16" fill="#a5fffb" filter="url(#blur2)"/>
<ellipse cx="676.2" cy="148.2" rx="14.783999999999999" ry="6.4" fill="#087574" filter="url(#blur3)"/>
<ellipse cx="674.2" cy="166.1" rx="22.4" ry="6.4" fill="#38e0da" filter="url(#blur3)"/>
<ellipse cx="671.2" cy="166.1" rx="9.856" ry="2.88" fill="#7df8f2" filter="url(#blur2)"/>
</g>
<ellipse cx="684.2" cy="151.1" rx="13.4" ry="3.9" fill="#0d8a89" filter="url(#blur1)"/>
<ellipse cx="684.2" cy="151.89999999999998" rx="12.2" ry="3.1" fill="#ffffff"/>
<path d="M639.6 152 C641 163 655 176.5 684 176.8 C712 176.8 727 164 728.8 152" fill="none" stroke="#e3242a" stroke-width="1.15"/>
<g fill="none" stroke="#f00000" stroke-width="1.35"><circle cx="518.0" cy="101.0" r="2.2"/><circle cx="521.1" cy="101.0" r="2.2"/><circle cx="524.2" cy="101.0" r="2.2"/><circle cx="527.3" cy="101.0" r="2.2"/><circle cx="530.3" cy="101.0" r="2.2"/><circle cx="533.4" cy="101.0" r="2.2"/><circle cx="536.5" cy="101.0" r="2.2"/><circle cx="539.6" cy="101.0" r="2.2"/><circle cx="542.7" cy="101.0" r="2.2"/><circle cx="545.8" cy="101.0" r="2.2"/><circle cx="548.9" cy="101.0" r="2.2"/><circle cx="551.9" cy="101.0" r="2.2"/><circle cx="555.0" cy="101.0" r="2.2"/><circle cx="558.1" cy="101.0" r="2.2"/><circle cx="561.2" cy="101.0" r="2.2"/><circle cx="564.3" cy="101.0" r="2.2"/><circle cx="567.4" cy="101.0" r="2.2"/><circle cx="570.5" cy="101.0" r="2.2"/><circle cx="573.6" cy="101.0" r="2.2"/><circle cx="576.6" cy="101.0" r="2.2"/><circle cx="579.7" cy="101.0" r="2.2"/><circle cx="582.8" cy="101.0" r="2.2"/><circle cx="585.9" cy="101.0" r="2.2"/><circle cx="589.0" cy="101.0" r="2.2"/><circle cx="592.1" cy="101.0" r="2.2"/><circle cx="595.2" cy="101.0" r="2.2"/><circle cx="598.2" cy="101.0" r="2.2"/><circle cx="601.3" cy="101.0" r="2.2"/><circle cx="604.4" cy="101.0" r="2.2"/><circle cx="607.5" cy="101.0" r="2.2"/><circle cx="610.6" cy="101.0" r="2.2"/><circle cx="613.7" cy="101.0" r="2.2"/><circle cx="616.8" cy="101.0" r="2.2"/><circle cx="619.8" cy="101.0" r="2.2"/><circle cx="622.9" cy="101.0" r="2.2"/><circle cx="626.0" cy="101.0" r="2.2"/><circle cx="629.1" cy="101.0" r="2.2"/><circle cx="632.2" cy="101.0" r="2.2"/><circle cx="635.3" cy="101.0" r="2.2"/><circle cx="638.4" cy="101.0" r="2.2"/><circle cx="641.5" cy="101.0" r="2.2"/><circle cx="644.5" cy="101.0" r="2.2"/><circle cx="647.6" cy="101.0" r="2.2"/><circle cx="650.7" cy="101.0" r="2.2"/><circle cx="653.8" cy="101.0" r="2.2"/><circle cx="656.9" cy="101.0" r="2.2"/><circle cx="660.0" cy="101.0" r="2.2"/><circle cx="663.1" cy="101.0" r="2.2"/><circle cx="666.1" cy="101.0" r="2.2"/><circle cx="669.2" cy="101.0" r="2.2"/><circle cx="672.3" cy="101.0" r="2.2"/><circle cx="675.4" cy="101.0" r="2.2"/><circle cx="678.5" cy="101.0" r="2.2"/><circle cx="681.6" cy="101.0" r="2.2"/><circle cx="684.7" cy="101.0" r="2.2"/><circle cx="687.7" cy="101.0" r="2.2"/><circle cx="690.8" cy="101.0" r="2.2"/><circle cx="693.9" cy="101.0" r="2.2"/><circle cx="697.0" cy="101.0" r="2.2"/><circle cx="700.1" cy="101.0" r="2.2"/><circle cx="703.2" cy="101.0" r="2.2"/><circle cx="706.3" cy="101.0" r="2.2"/><circle cx="709.3" cy="101.0" r="2.2"/><circle cx="712.4" cy="101.0" r="2.2"/><circle cx="715.5" cy="101.0" r="2.2"/><circle cx="718.6" cy="101.0" r="2.2"/><circle cx="721.7" cy="101.0" r="2.2"/><circle cx="724.8" cy="101.0" r="2.2"/><circle cx="727.9" cy="101.0" r="2.2"/><circle cx="731.0" cy="101.0" r="2.2"/><circle cx="734.0" cy="101.0" r="2.2"/><circle cx="737.1" cy="101.0" r="2.2"/><circle cx="740.2" cy="101.0" r="2.2"/><circle cx="743.3" cy="101.0" r="2.2"/><circle cx="746.4" cy="101.0" r="2.2"/><circle cx="749.5" cy="101.0" r="2.2"/><circle cx="752.6" cy="101.0" r="2.2"/><circle cx="755.6" cy="101.0" r="2.2"/><circle cx="758.7" cy="101.0" r="2.2"/><circle cx="761.8" cy="101.0" r="2.2"/><circle cx="764.9" cy="101.0" r="2.2"/></g>
<rect x="518.0" y="199.5" width="246.79999999999995" height="181.3" fill="#fff" stroke="#111" stroke-width="1.15"/><path d="M641.3 199.5 v3 M641.3 380.8 v-3" stroke="#1a1a1a" stroke-width="1" fill="none"/>
<clipPath id="tc2"><path d="M728.2 338.1 L727.9 341.8 L727.1 345.5 L725.8 348.9 L724.2 352.0 L722.2 354.8 L720.0 357.3 L717.5 359.6 L715.0 361.5 L712.3 363.3 L709.4 364.8 L706.5 366.1 L703.5 367.2 L700.4 368.2 L697.3 369.0 L694.1 369.5 L690.9 370.0 L687.7 370.2 L684.4 370.3 L681.1 370.2 L677.9 370.0 L674.7 369.5 L671.5 369.0 L668.4 368.2 L665.3 367.2 L662.3 366.1 L659.4 364.8 L656.5 363.3 L653.8 361.5 L651.3 359.6 L648.8 357.3 L646.6 354.8 L644.6 352.0 L643.0 348.9 L641.7 345.5 L640.9 341.8 L640.6 338.1 L640.9 334.4 L641.7 330.7 L643.0 327.3 L644.6 324.2 L646.6 321.4 L648.8 318.9 L651.3 316.6 L653.8 314.7 L656.5 312.9 L659.4 311.4 L662.3 310.1 L665.3 309.0 L668.4 308.0 L671.5 307.2 L674.7 306.7 L677.9 306.2 L681.1 306.0 L684.4 305.9 L687.7 306.0 L690.9 306.2 L694.1 306.7 L697.3 307.2 L700.4 308.0 L703.5 309.0 L706.5 310.1 L709.4 311.4 L712.3 312.9 L715.0 314.7 L717.5 316.6 L720.0 318.9 L722.2 321.4 L724.2 324.2 L725.8 327.3 L727.1 330.7 L727.9 334.4Z"/></clipPath>
<path d="M728.2 338.1 L727.9 341.8 L727.1 345.5 L725.8 348.9 L724.2 352.0 L722.2 354.8 L720.0 357.3 L717.5 359.6 L715.0 361.5 L712.3 363.3 L709.4 364.8 L706.5 366.1 L703.5 367.2 L700.4 368.2 L697.3 369.0 L694.1 369.5 L690.9 370.0 L687.7 370.2 L684.4 370.3 L681.1 370.2 L677.9 370.0 L674.7 369.5 L671.5 369.0 L668.4 368.2 L665.3 367.2 L662.3 366.1 L659.4 364.8 L656.5 363.3 L653.8 361.5 L651.3 359.6 L648.8 357.3 L646.6 354.8 L644.6 352.0 L643.0 348.9 L641.7 345.5 L640.9 341.8 L640.6 338.1 L640.9 334.4 L641.7 330.7 L643.0 327.3 L644.6 324.2 L646.6 321.4 L648.8 318.9 L651.3 316.6 L653.8 314.7 L656.5 312.9 L659.4 311.4 L662.3 310.1 L665.3 309.0 L668.4 308.0 L671.5 307.2 L674.7 306.7 L677.9 306.2 L681.1 306.0 L684.4 305.9 L687.7 306.0 L690.9 306.2 L694.1 306.7 L697.3 307.2 L700.4 308.0 L703.5 309.0 L706.5 310.1 L709.4 311.4 L712.3 312.9 L715.0 314.7 L717.5 316.6 L720.0 318.9 L722.2 321.4 L724.2 324.2 L725.8 327.3 L727.1 330.7 L727.9 334.4Z" fill="#1cbab5"/>
<g clip-path="url(#tc2)">
<path d="M728.2 338.1 L727.9 341.8 L727.1 345.5 L725.8 348.9 L724.2 352.0 L722.2 354.8 L720.0 357.3 L717.5 359.6 L715.0 361.5 L712.3 363.3 L709.4 364.8 L706.5 366.1 L703.5 367.2 L700.4 368.2 L697.3 369.0 L694.1 369.5 L690.9 370.0 L687.7 370.2 L684.4 370.3 L681.1 370.2 L677.9 370.0 L674.7 369.5 L671.5 369.0 L668.4 368.2 L665.3 367.2 L662.3 366.1 L659.4 364.8 L656.5 363.3 L653.8 361.5 L651.3 359.6 L648.8 357.3 L646.6 354.8 L644.6 352.0 L643.0 348.9 L641.7 345.5 L640.9 341.8 L640.6 338.1 L640.9 334.4 L641.7 330.7 L643.0 327.3 L644.6 324.2 L646.6 321.4 L648.8 318.9 L651.3 316.6 L653.8 314.7 L656.5 312.9 L659.4 311.4 L662.3 310.1 L665.3 309.0 L668.4 308.0 L671.5 307.2 L674.7 306.7 L677.9 306.2 L681.1 306.0 L684.4 305.9 L687.7 306.0 L690.9 306.2 L694.1 306.7 L697.3 307.2 L700.4 308.0 L703.5 309.0 L706.5 310.1 L709.4 311.4 L712.3 312.9 L715.0 314.7 L717.5 316.6 L720.0 318.9 L722.2 321.4 L724.2 324.2 L725.8 327.3 L727.1 330.7 L727.9 334.4Z" fill="none" stroke="#0b8785" stroke-width="7" filter="url(#blur3)"/>
<ellipse cx="688.4" cy="369.334" rx="32.849999999999994" ry="6.440000000000001" fill="#0e9491" filter="url(#blur3)"/>
<ellipse cx="684.4" cy="335.6" rx="28.2" ry="16.600000000000005" fill="none" stroke="#25cfc9" stroke-width="9" filter="url(#blur3)"/>
<ellipse cx="687.4" cy="320.06800000000004" rx="21.9" ry="6.440000000000001" fill="#3fe4de" filter="url(#blur3)"/>
<ellipse cx="691.4" cy="320.71200000000005" rx="7.446" ry="4.186000000000001" fill="#a5fffb" filter="url(#blur2)"/>
<ellipse cx="676.4" cy="334.6" rx="14.454" ry="6.440000000000001" fill="#087574" filter="url(#blur3)"/>
<ellipse cx="674.4" cy="352.59000000000003" rx="21.9" ry="6.440000000000001" fill="#38e0da" filter="url(#blur3)"/>
<ellipse cx="671.4" cy="352.59000000000003" rx="9.636" ry="2.898" fill="#7df8f2" filter="url(#blur2)"/>
<path d="M700 343 C704 346.5 706.5 350 708 354 C709 357 709.3 360 709 363" fill="none" stroke="#128f90" stroke-width="0.9" opacity="0.45"/>
</g>
<ellipse cx="684.4" cy="337.5" rx="13.4" ry="3.9" fill="#0d8a89" filter="url(#blur1)"/>
<ellipse cx="684.4" cy="338.3" rx="12.2" ry="3.1" fill="#ffffff"/>
<path d="M696 336.4 C692 330 688 326 686 324.4 C682 321 679 318.5 675 317 C671 315.3 667 314.5 663.8 314.8 C660.5 315.3 658.5 316.3 656.4 318 C652.5 321 650 324.5 648 328 C646.3 332 646.3 337 647 341 C648.3 347 651 352 654.5 356 C658 360 662.5 363 667.5 365 C672 367.3 677 369 682.3 369.8 C687 370.3 691 370.3 695 369.8" fill="none" stroke="#e3242a" stroke-width="1.15"/>
<g fill="none" stroke="#f00000" stroke-width="1.35"><circle cx="641.3" cy="200.6" r="2.2"/><circle cx="644.4" cy="201.1" r="2.2"/><circle cx="647.5" cy="201.6" r="2.2"/><circle cx="650.6" cy="202.2" r="2.2"/><circle cx="653.6" cy="202.8" r="2.2"/><circle cx="656.7" cy="203.5" r="2.2"/><circle cx="659.8" cy="204.2" r="2.2"/><circle cx="662.9" cy="204.9" r="2.2"/><circle cx="666.0" cy="205.7" r="2.2"/><circle cx="669.1" cy="206.6" r="2.2"/><circle cx="672.2" cy="207.5" r="2.2"/><circle cx="675.3" cy="208.5" r="2.2"/><circle cx="678.3" cy="209.5" r="2.2"/><circle cx="681.4" cy="210.5" r="2.2"/><circle cx="684.5" cy="211.7" r="2.2"/><circle cx="687.6" cy="212.9" r="2.2"/><circle cx="690.7" cy="214.3" r="2.2"/><circle cx="693.8" cy="215.8" r="2.2"/><circle cx="696.9" cy="217.4" r="2.2"/><circle cx="700.0" cy="219.2" r="2.2"/><circle cx="703.0" cy="221.2" r="2.2"/><circle cx="706.1" cy="223.4" r="2.2"/><circle cx="709.2" cy="225.7" r="2.2"/><circle cx="712.3" cy="228.3" r="2.2"/><circle cx="715.4" cy="231.1" r="2.2"/><circle cx="718.5" cy="234.3" r="2.2"/><circle cx="721.6" cy="237.7" r="2.2"/><circle cx="724.7" cy="241.2" r="2.2"/><circle cx="727.8" cy="244.7" r="2.2"/><circle cx="730.8" cy="248.4" r="2.2"/><circle cx="733.9" cy="252.1" r="2.2"/><circle cx="737.0" cy="255.9" r="2.2"/><circle cx="740.1" cy="259.6" r="2.2"/><circle cx="743.2" cy="263.4" r="2.2"/><circle cx="746.3" cy="267.1" r="2.2"/><circle cx="749.4" cy="270.9" r="2.2"/><circle cx="752.4" cy="274.7" r="2.2"/><circle cx="755.5" cy="278.4" r="2.2"/><circle cx="758.6" cy="282.2" r="2.2"/><circle cx="761.7" cy="286.0" r="2.2"/><circle cx="764.8" cy="289.8" r="2.2"/></g>
<g fill="none" stroke="#f00000" stroke-width="1.35"><circle cx="518.0" cy="290.0" r="2.2"/><circle cx="521.1" cy="293.6" r="2.2"/><circle cx="524.2" cy="297.2" r="2.2"/><circle cx="527.2" cy="300.9" r="2.2"/><circle cx="530.3" cy="304.3" r="2.2"/><circle cx="533.4" cy="307.7" r="2.2"/><circle cx="536.5" cy="311.3" r="2.2"/><circle cx="539.6" cy="315.7" r="2.2"/><circle cx="542.7" cy="321.7" r="2.2"/><circle cx="545.7" cy="326.5" r="2.2"/><circle cx="548.8" cy="330.3" r="2.2"/><circle cx="551.9" cy="333.7" r="2.2"/><circle cx="555.0" cy="337.1" r="2.2"/><circle cx="558.1" cy="340.4" r="2.2"/><circle cx="561.2" cy="343.6" r="2.2"/><circle cx="564.2" cy="346.5" r="2.2"/><circle cx="567.3" cy="349.2" r="2.2"/><circle cx="570.4" cy="351.8" r="2.2"/><circle cx="573.5" cy="354.1" r="2.2"/><circle cx="576.6" cy="356.3" r="2.2"/><circle cx="579.6" cy="358.4" r="2.2"/><circle cx="582.7" cy="360.3" r="2.2"/><circle cx="585.8" cy="362.1" r="2.2"/><circle cx="588.9" cy="363.7" r="2.2"/><circle cx="592.0" cy="365.3" r="2.2"/><circle cx="595.1" cy="366.7" r="2.2"/><circle cx="598.1" cy="368.0" r="2.2"/><circle cx="601.2" cy="369.2" r="2.2"/><circle cx="604.3" cy="370.3" r="2.2"/><circle cx="607.4" cy="371.4" r="2.2"/><circle cx="610.5" cy="372.4" r="2.2"/><circle cx="613.6" cy="373.3" r="2.2"/><circle cx="616.6" cy="374.1" r="2.2"/><circle cx="619.7" cy="374.9" r="2.2"/><circle cx="622.8" cy="375.7" r="2.2"/><circle cx="625.9" cy="376.5" r="2.2"/><circle cx="629.0" cy="377.2" r="2.2"/><circle cx="632.1" cy="377.9" r="2.2"/><circle cx="635.1" cy="378.5" r="2.2"/><circle cx="638.2" cy="379.2" r="2.2"/><circle cx="641.3" cy="379.8" r="2.2"/></g>
<rect x="518.0" y="390.5" width="247.60000000000002" height="179.29999999999995" fill="#fff" stroke="#111" stroke-width="1.15"/><path d="M641.3 390.5 v3 M641.3 569.8 v-3" stroke="#1a1a1a" stroke-width="1" fill="none"/>
<clipPath id="tc3"><path d="M734.1 528.3 L733.8 532.3 L732.8 536.2 L731.4 539.8 L729.5 543.0 L727.3 545.8 L724.9 548.3 L722.4 550.5 L719.7 552.4 L716.8 554.1 L713.9 555.5 L710.9 556.8 L707.8 557.8 L704.7 558.7 L701.5 559.4 L698.2 560.0 L694.9 560.4 L691.6 560.6 L688.3 560.7 L685.0 560.6 L681.7 560.4 L678.4 560.0 L675.1 559.4 L671.9 558.7 L668.8 557.8 L665.7 556.8 L662.7 555.5 L659.8 554.1 L656.9 552.4 L654.2 550.5 L651.7 548.3 L649.3 545.8 L647.1 543.0 L645.2 539.8 L643.8 536.2 L642.8 532.3 L642.5 528.3 L642.8 524.3 L643.8 520.4 L645.2 516.8 L647.1 513.6 L649.3 510.8 L651.7 508.3 L654.2 506.1 L656.9 504.2 L659.8 502.5 L662.7 501.1 L665.7 499.8 L668.8 498.8 L671.9 497.9 L675.1 497.2 L678.4 496.6 L681.7 496.2 L685.0 496.0 L688.3 495.9 L691.6 496.0 L694.9 496.2 L698.2 496.6 L701.5 497.2 L704.7 497.9 L707.8 498.8 L710.9 499.8 L713.9 501.1 L716.8 502.5 L719.7 504.2 L722.4 506.1 L724.9 508.3 L727.3 510.8 L729.5 513.6 L731.4 516.8 L732.8 520.4 L733.8 524.3Z"/></clipPath>
<path d="M734.1 528.3 L733.8 532.3 L732.8 536.2 L731.4 539.8 L729.5 543.0 L727.3 545.8 L724.9 548.3 L722.4 550.5 L719.7 552.4 L716.8 554.1 L713.9 555.5 L710.9 556.8 L707.8 557.8 L704.7 558.7 L701.5 559.4 L698.2 560.0 L694.9 560.4 L691.6 560.6 L688.3 560.7 L685.0 560.6 L681.7 560.4 L678.4 560.0 L675.1 559.4 L671.9 558.7 L668.8 557.8 L665.7 556.8 L662.7 555.5 L659.8 554.1 L656.9 552.4 L654.2 550.5 L651.7 548.3 L649.3 545.8 L647.1 543.0 L645.2 539.8 L643.8 536.2 L642.8 532.3 L642.5 528.3 L642.8 524.3 L643.8 520.4 L645.2 516.8 L647.1 513.6 L649.3 510.8 L651.7 508.3 L654.2 506.1 L656.9 504.2 L659.8 502.5 L662.7 501.1 L665.7 499.8 L668.8 498.8 L671.9 497.9 L675.1 497.2 L678.4 496.6 L681.7 496.2 L685.0 496.0 L688.3 495.9 L691.6 496.0 L694.9 496.2 L698.2 496.6 L701.5 497.2 L704.7 497.9 L707.8 498.8 L710.9 499.8 L713.9 501.1 L716.8 502.5 L719.7 504.2 L722.4 506.1 L724.9 508.3 L727.3 510.8 L729.5 513.6 L731.4 516.8 L732.8 520.4 L733.8 524.3Z" fill="#1cbab5"/>
<g clip-path="url(#tc3)">
<path d="M734.1 528.3 L733.8 532.3 L732.8 536.2 L731.4 539.8 L729.5 543.0 L727.3 545.8 L724.9 548.3 L722.4 550.5 L719.7 552.4 L716.8 554.1 L713.9 555.5 L710.9 556.8 L707.8 557.8 L704.7 558.7 L701.5 559.4 L698.2 560.0 L694.9 560.4 L691.6 560.6 L688.3 560.7 L685.0 560.6 L681.7 560.4 L678.4 560.0 L675.1 559.4 L671.9 558.7 L668.8 557.8 L665.7 556.8 L662.7 555.5 L659.8 554.1 L656.9 552.4 L654.2 550.5 L651.7 548.3 L649.3 545.8 L647.1 543.0 L645.2 539.8 L643.8 536.2 L642.8 532.3 L642.5 528.3 L642.8 524.3 L643.8 520.4 L645.2 516.8 L647.1 513.6 L649.3 510.8 L651.7 508.3 L654.2 506.1 L656.9 504.2 L659.8 502.5 L662.7 501.1 L665.7 499.8 L668.8 498.8 L671.9 497.9 L675.1 497.2 L678.4 496.6 L681.7 496.2 L685.0 496.0 L688.3 495.9 L691.6 496.0 L694.9 496.2 L698.2 496.6 L701.5 497.2 L704.7 497.9 L707.8 498.8 L710.9 499.8 L713.9 501.1 L716.8 502.5 L719.7 504.2 L722.4 506.1 L724.9 508.3 L727.3 510.8 L729.5 513.6 L731.4 516.8 L732.8 520.4 L733.8 524.3Z" fill="none" stroke="#0b8785" stroke-width="7" filter="url(#blur3)"/>
<ellipse cx="692.3" cy="559.728" rx="34.349999999999994" ry="6.48" fill="#0e9491" filter="url(#blur3)"/>
<ellipse cx="688.3" cy="525.8" rx="29.2" ry="15.8" fill="none" stroke="#25cfc9" stroke-width="9" filter="url(#blur3)"/>
<ellipse cx="691.3" cy="510.15599999999995" rx="22.9" ry="6.48" fill="#3fe4de" filter="url(#blur3)"/>
<ellipse cx="695.3" cy="510.804" rx="7.7860000000000005" ry="4.212" fill="#a5fffb" filter="url(#blur2)"/>
<ellipse cx="680.3" cy="524.8" rx="15.113999999999999" ry="6.48" fill="#087574" filter="url(#blur3)"/>
<ellipse cx="678.3" cy="542.88" rx="22.9" ry="6.48" fill="#38e0da" filter="url(#blur3)"/>
<ellipse cx="675.3" cy="542.88" rx="10.075999999999999" ry="2.916" fill="#7df8f2" filter="url(#blur2)"/>
<path d="M716 505 C720 511 722 518 721.5 525 C721 531 719 536 716 540" fill="none" stroke="#128f90" stroke-width="0.9" opacity="0.45"/>
</g>
<ellipse cx="688.3" cy="527.6999999999999" rx="13.4" ry="3.9" fill="#0d8a89" filter="url(#blur1)"/>
<ellipse cx="688.3" cy="528.5" rx="12.2" ry="3.1" fill="#ffffff"/>
<path d="M691.6 495.5 C687 495.6 683 496.3 680.5 497.8 C678 500 677.5 503 677.2 507 C676.5 512 676.2 518 675.9 523.7" fill="none" stroke="#e3242a" stroke-width="1.15"/>
<path d="M699 529.2 C697.5 532 696 534.5 693.5 536.7 C689 540 684 542.7 678.7 545 C675 546.8 671 548.3 667.6 549.6 C664 550.8 660 551.8 656.4 552.4" fill="none" stroke="#e3242a" stroke-width="1.15"/>
<g fill="none" stroke="#f00000" stroke-width="1.35"><circle cx="518.0" cy="481.0" r="2.2"/><circle cx="521.1" cy="471.9" r="2.2"/><circle cx="524.2" cy="463.2" r="2.2"/><circle cx="527.3" cy="454.8" r="2.2"/><circle cx="530.4" cy="446.6" r="2.2"/><circle cx="533.5" cy="438.8" r="2.2"/><circle cx="536.5" cy="431.3" r="2.2"/><circle cx="539.6" cy="424.0" r="2.2"/><circle cx="542.7" cy="417.0" r="2.2"/><circle cx="545.8" cy="410.4" r="2.2"/><circle cx="548.9" cy="404.1" r="2.2"/><circle cx="552.0" cy="398.2" r="2.2"/><circle cx="555.1" cy="392.3" r="2.2"/></g>
<g fill="none" stroke="#f00000" stroke-width="1.35"><circle cx="558.2" cy="565.8" r="2.2"/><circle cx="561.3" cy="561.1" r="2.2"/><circle cx="564.4" cy="556.7" r="2.2"/><circle cx="567.5" cy="552.3" r="2.2"/><circle cx="570.6" cy="548.2" r="2.2"/><circle cx="573.6" cy="544.4" r="2.2"/><circle cx="576.7" cy="540.9" r="2.2"/><circle cx="579.8" cy="537.6" r="2.2"/><circle cx="582.9" cy="534.7" r="2.2"/><circle cx="586.0" cy="532.1" r="2.2"/><circle cx="589.1" cy="529.6" r="2.2"/><circle cx="592.2" cy="527.3" r="2.2"/><circle cx="595.3" cy="525.1" r="2.2"/><circle cx="598.4" cy="523.0" r="2.2"/><circle cx="601.5" cy="521.0" r="2.2"/><circle cx="604.6" cy="519.0" r="2.2"/><circle cx="607.6" cy="517.0" r="2.2"/><circle cx="610.7" cy="514.7" r="2.2"/><circle cx="613.8" cy="512.4" r="2.2"/><circle cx="616.9" cy="509.9" r="2.2"/><circle cx="620.0" cy="507.3" r="2.2"/><circle cx="623.1" cy="504.5" r="2.2"/><circle cx="626.2" cy="501.6" r="2.2"/><circle cx="629.3" cy="498.4" r="2.2"/><circle cx="632.4" cy="495.0" r="2.2"/><circle cx="635.5" cy="491.4" r="2.2"/><circle cx="638.6" cy="487.2" r="2.2"/><circle cx="641.7" cy="481.6" r="2.2"/><circle cx="644.7" cy="475.1" r="2.2"/><circle cx="647.8" cy="470.1" r="2.2"/><circle cx="650.9" cy="466.1" r="2.2"/><circle cx="654.0" cy="462.6" r="2.2"/><circle cx="657.1" cy="459.4" r="2.2"/><circle cx="660.2" cy="456.4" r="2.2"/><circle cx="663.3" cy="453.6" r="2.2"/><circle cx="666.4" cy="451.1" r="2.2"/><circle cx="669.5" cy="448.6" r="2.2"/><circle cx="672.6" cy="446.4" r="2.2"/><circle cx="675.7" cy="444.4" r="2.2"/><circle cx="678.7" cy="442.4" r="2.2"/><circle cx="681.8" cy="440.5" r="2.2"/><circle cx="684.9" cy="438.4" r="2.2"/><circle cx="688.0" cy="436.3" r="2.2"/><circle cx="691.1" cy="434.1" r="2.2"/><circle cx="694.2" cy="431.8" r="2.2"/><circle cx="697.3" cy="429.3" r="2.2"/><circle cx="700.4" cy="426.6" r="2.2"/><circle cx="703.5" cy="423.5" r="2.2"/><circle cx="706.6" cy="420.2" r="2.2"/><circle cx="709.7" cy="416.3" r="2.2"/><circle cx="712.7" cy="412.0" r="2.2"/><circle cx="715.8" cy="407.8" r="2.2"/><circle cx="718.9" cy="403.5" r="2.2"/><circle cx="722.0" cy="398.6" r="2.2"/><circle cx="725.1" cy="393.0" r="2.2"/></g>
<g fill="none" stroke="#f00000" stroke-width="1.35"><circle cx="728.2" cy="569.1" r="2.2"/><circle cx="731.3" cy="562.8" r="2.2"/><circle cx="734.4" cy="556.4" r="2.2"/><circle cx="737.5" cy="550.1" r="2.2"/><circle cx="740.6" cy="543.6" r="2.2"/><circle cx="743.7" cy="536.5" r="2.2"/><circle cx="746.8" cy="529.1" r="2.2"/><circle cx="749.8" cy="521.5" r="2.2"/><circle cx="752.9" cy="513.7" r="2.2"/><circle cx="756.0" cy="505.7" r="2.2"/><circle cx="759.1" cy="497.5" r="2.2"/><circle cx="762.2" cy="489.4" r="2.2"/><circle cx="765.3" cy="481.9" r="2.2"/></g>
<text transform="translate(510 25.8) scale(1 1.08)" font-family="'Liberation Serif','DejaVu Serif',serif" font-size="27.5" fill="#111" text-anchor="end">1</text>
<text transform="translate(509.2 111) scale(1 1.08)" font-family="'Liberation Serif','DejaVu Serif',serif" font-size="27.5" fill="#111" text-anchor="end">0</text>
<text transform="translate(510.3 192.8) scale(1 1.08)" font-family="'Liberation Serif','DejaVu Serif',serif" font-size="27.5" fill="#111" text-anchor="end">-1</text>
<text transform="translate(510 215) scale(1 1.08)" font-family="'Liberation Serif','DejaVu Serif',serif" font-size="27.5" fill="#111" text-anchor="end">1</text>
<text transform="translate(509.2 300.2) scale(1 1.08)" font-family="'Liberation Serif','DejaVu Serif',serif" font-size="27.5" fill="#111" text-anchor="end">0</text>
<text transform="translate(513.3 384) scale(1 1.08)" font-family="'Liberation Serif','DejaVu Serif',serif" font-size="27.5" fill="#111" text-anchor="end">-1</text>
<text transform="translate(510 408.2) scale(1 1.08)" font-family="'Liberation Serif','DejaVu Serif',serif" font-size="27.5" fill="#111" text-anchor="end">1</text>
<text transform="translate(509.2 492.2) scale(1 1.08)" font-family="'Liberation Serif','DejaVu Serif',serif" font-size="27.5" fill="#111" text-anchor="end">0</text>
<text transform="translate(513.3 572.3) scale(1 1.08)" font-family="'Liberation Serif','DejaVu Serif',serif" font-size="27.5" fill="#111" text-anchor="end">-1</text>
<text transform="translate(513.5 597.2) scale(1 1.08)" font-family="'Liberation Serif','DejaVu Serif',serif" font-size="27.5" fill="#111" text-anchor="middle">-1</text>
<text transform="translate(637.5 597.2) scale(1 1.08)" font-family="'Liberation Serif','DejaVu Serif',serif" font-size="27.5" fill="#111" text-anchor="middle">0</text>
<text transform="translate(764 597.2) scale(1 1.08)" font-family="'Liberation Serif','DejaVu Serif',serif" font-size="27.5" fill="#111" text-anchor="middle">1</text>
<text transform="translate(482.3 100.5) rotate(-90)" font-family="'Liberation Serif','DejaVu Serif',serif" font-size="30.6" fill="#111" text-anchor="middle">θ (π)</text>
<text transform="translate(482.3 290) rotate(-90)" font-family="'Liberation Serif','DejaVu Serif',serif" font-size="30.6" fill="#111" text-anchor="middle">θ (π)</text>
<text transform="translate(482.3 480) rotate(-90)" font-family="'Liberation Serif','DejaVu Serif',serif" font-size="30.6" fill="#111" text-anchor="middle">θ (π)</text>
<text x="592" y="625" font-family="'Liberation Serif','DejaVu Serif',serif" font-size="30.3" fill="#111"><tspan font-style="italic">k</tspan><tspan font-style="italic" font-size="19.5" dy="9.5">x</tspan><tspan dy="-9.5"> (π/a)</tspan></text>
<text transform="translate(731.0 47.8) scale(0.985 1.035)" font-family="'Liberation Sans','DejaVu Sans',sans-serif" font-size="43" font-weight="bold" fill="#000">B</text>
<text transform="translate(731.1 238.3) scale(0.95 1.035)" font-family="'Liberation Sans','DejaVu Sans',sans-serif" font-size="43" font-weight="bold" fill="#000">C</text>
<text transform="translate(731.0 431.5) scale(0.985 1.035)" font-family="'Liberation Sans','DejaVu Sans',sans-serif" font-size="43" font-weight="bold" fill="#000">D</text>
</g>
<g id="panelE">
<rect x="1447.0" y="54.5" width="27.200000000000045" height="217.0" fill="#c6c7c9" stroke="#58585a" stroke-width="1.2"/>
<rect x="1556.6" y="54.5" width="55.40000000000009" height="217.0" fill="#c6c7c9" stroke="#58585a" stroke-width="1.2"/>
<path d="M1014.1 54.5 v6.5 M1014.1 271.5 v-6.5 M1133.7 54.5 v6.5 M1133.7 271.5 v-6.5 M1253.2 54.5 v6.5 M1253.2 271.5 v-6.5 M1372.8 54.5 v6.5 M1372.8 271.5 v-6.5 M1492.4 54.5 v6.5 M1492.4 271.5 v-6.5" stroke="#3a3a3a" stroke-width="1.2" fill="none"/>
<path d="M894.5 163.3 L1000.0 130.5 L1005.0 129.1 L1009.9 127.7 L1014.9 126.2 L1019.8 124.7 L1024.7 123.3 L1029.7 121.8 L1034.6 120.3 L1039.5 118.8 L1044.4 117.3 L1049.3 115.7 L1054.3 114.2 L1059.2 112.6 L1064.1 111.0 L1069.0 109.5 L1073.9 107.9 L1078.8 106.3 L1083.7 104.7 L1088.6 103.1 L1093.4 101.5 L1098.3 99.9 L1103.2 98.2 L1108.1 96.6 L1113.0 94.9 L1117.8 93.2 L1122.7 91.5 L1127.5 89.7 L1132.3 87.9 L1137.2 86.0 L1141.9 84.1 L1146.7 82.1 L1151.3 80.0 L1155.9 77.6 L1160.4 75.1 L1164.7 72.3 L1168.9 69.3 L1172.9 66.0 L1176.6 62.4 L1180.0 58.6 L1183.2 54.5 L1222.9 54.5 L1222.9 57.5 L1222.8 60.5 L1222.6 63.5 L1222.4 66.4 L1222.2 69.3 L1221.9 72.2 L1221.3 75.1 L1220.4 78.0 L1219.4 80.8 L1218.4 83.6 L1217.2 86.3 L1215.8 88.9 L1214.4 91.5 L1212.9 94.1 L1211.6 96.8 L1210.3 99.4 L1209.0 102.1 L1207.7 104.8 L1206.3 107.4 L1205.0 110.0 L1203.6 112.7 L1202.2 115.3 L1200.9 117.9 L1199.6 120.6 L1198.3 123.3 L1197.1 126.0 L1195.9 128.7 L1194.8 131.5 L1193.8 134.2 L1192.8 137.0 L1191.9 139.9 L1191.1 142.7 L1190.4 145.6 L1189.9 148.5 L1189.5 151.4 L1189.2 154.4 L1188.9 157.3 L1188.7 160.3 L1188.6 163.3 L1188.7 166.3 L1188.9 169.3 L1189.2 172.2 L1189.5 175.2 L1189.9 178.1 L1190.4 181.0 L1191.1 183.9 L1191.9 186.7 L1192.8 189.6 L1193.8 192.4 L1194.8 195.1 L1195.9 197.9 L1197.1 200.6 L1198.3 203.3 L1199.6 206.0 L1200.9 208.7 L1202.2 211.3 L1203.6 213.9 L1205.0 216.6 L1206.3 219.2 L1207.7 221.8 L1209.0 224.5 L1210.3 227.2 L1211.6 229.8 L1212.9 232.5 L1214.4 235.1 L1215.8 237.7 L1217.2 240.3 L1218.4 243.0 L1219.4 245.8 L1220.4 248.6 L1221.3 251.5 L1221.9 254.4 L1222.2 257.3 L1222.4 260.2 L1222.6 263.1 L1222.8 266.1 L1222.9 269.1 L1222.9 272.1 L1183.2 272.1 L1180.0 268.0 L1176.6 264.2 L1172.9 260.6 L1168.9 257.3 L1164.7 254.3 L1160.4 251.5 L1155.9 249.0 L1151.3 246.6 L1146.7 244.5 L1141.9 242.5 L1137.2 240.6 L1132.3 238.7 L1127.5 236.9 L1122.7 235.1 L1117.8 233.4 L1113.0 231.7 L1108.1 230.0 L1103.2 228.4 L1098.3 226.7 L1093.4 225.1 L1088.6 223.5 L1083.7 221.9 L1078.8 220.3 L1073.9 218.7 L1069.0 217.1 L1064.1 215.6 L1059.2 214.0 L1054.3 212.4 L1049.3 210.9 L1044.4 209.3 L1039.5 207.8 L1034.6 206.3 L1029.7 204.8 L1024.7 203.3 L1019.8 201.9 L1014.9 200.4 L1009.9 198.9 L1005.0 197.5 L1000.0 196.1Z" fill="#93d8e1" stroke="#111" stroke-width="1.25" stroke-linejoin="round"/>
<path d="M1315.4 54.5 L1316.1 56.8 L1316.8 59.2 L1317.5 61.5 L1318.3 63.8 L1319.2 66.0 L1320.0 68.3 L1320.9 70.5 L1321.9 72.7 L1322.9 74.8 L1324.0 77.0 L1325.2 79.1 L1326.3 81.3 L1327.5 83.4 L1328.8 85.4 L1330.0 87.5 L1331.3 89.6 L1332.6 91.6 L1333.9 93.6 L1335.3 95.6 L1336.7 97.6 L1338.1 99.6 L1339.4 101.6 L1340.7 103.6 L1342.0 105.7 L1343.2 107.7 L1344.5 109.8 L1345.7 111.8 L1347.0 113.9 L1348.2 116.0 L1348.2 116.0 L1350.3 114.9 L1352.4 113.7 L1354.6 112.6 L1356.7 111.4 L1358.8 110.3 L1360.9 109.1 L1363.0 108.0 L1365.2 106.8 L1367.3 105.7 L1369.4 104.5 L1371.5 103.4 L1373.6 102.2 L1375.7 101.0 L1377.8 99.8 L1379.9 98.6 L1381.9 97.3 L1384.0 96.0 L1386.0 94.7 L1388.0 93.4 L1390.0 92.0 L1392.0 90.7 L1394.0 89.2 L1395.9 87.8 L1397.8 86.4 L1399.8 84.9 L1401.7 83.3 L1403.5 81.7 L1405.0 80.0 L1406.3 78.0 L1407.5 75.8 L1408.5 73.6 L1409.1 71.3 L1409.7 68.9 L1410.1 66.5 L1410.4 64.1 L1410.5 61.7 L1410.7 59.3 L1410.8 56.9 L1410.8 54.5Z" fill="#93d8e1" stroke="#111" stroke-width="1.25" stroke-linejoin="round"/>
<path d="M1315.4 272.1 L1316.1 269.8 L1316.8 267.4 L1317.5 265.1 L1318.3 262.8 L1319.2 260.6 L1320.0 258.3 L1320.9 256.1 L1321.9 253.9 L1322.9 251.8 L1324.0 249.6 L1325.2 247.5 L1326.3 245.3 L1327.5 243.2 L1328.8 241.2 L1330.0 239.1 L1331.3 237.0 L1332.6 235.0 L1333.9 233.0 L1335.3 231.0 L1336.7 229.0 L1338.1 227.0 L1339.4 225.0 L1340.7 223.0 L1342.0 220.9 L1343.2 218.9 L1344.5 216.8 L1345.7 214.8 L1347.0 212.7 L1348.2 210.6 L1348.2 210.6 L1350.3 211.7 L1352.4 212.9 L1354.6 214.0 L1356.7 215.2 L1358.8 216.3 L1360.9 217.5 L1363.0 218.6 L1365.2 219.8 L1367.3 220.9 L1369.4 222.1 L1371.5 223.2 L1373.6 224.4 L1375.7 225.6 L1377.8 226.8 L1379.9 228.0 L1381.9 229.3 L1384.0 230.6 L1386.0 231.9 L1388.0 233.2 L1390.0 234.6 L1392.0 235.9 L1394.0 237.4 L1395.9 238.8 L1397.8 240.2 L1399.8 241.7 L1401.7 243.3 L1403.5 244.9 L1405.0 246.6 L1406.3 248.6 L1407.5 250.8 L1408.5 253.0 L1409.1 255.3 L1409.7 257.7 L1410.1 260.1 L1410.4 262.5 L1410.5 264.9 L1410.7 267.3 L1410.8 269.7 L1410.8 272.1Z" fill="#93d8e1" stroke="#111" stroke-width="1.25" stroke-linejoin="round"/>
<path d="M1348.2 116.0 L1346.9 117.6 L1345.6 119.2 L1344.2 120.7 L1342.8 122.2 L1341.3 123.6 L1339.8 124.9 L1338.1 126.2 L1336.4 127.5 L1334.7 128.7 L1333.1 130.0 L1331.5 131.2 L1329.9 132.6 L1328.5 134.0 L1327.1 135.4 L1325.9 137.0 L1324.6 138.7 L1323.4 140.4 L1322.3 142.1 L1321.2 143.9 L1320.2 145.7 L1319.3 147.6 L1318.5 149.4 L1317.8 151.3 L1317.1 153.2 L1316.5 155.2 L1315.9 157.2 L1315.4 159.2 L1315.0 161.2 L1314.6 163.3 L1315.0 165.4 L1315.4 167.4 L1315.9 169.4 L1316.5 171.4 L1317.1 173.4 L1317.8 175.3 L1318.5 177.2 L1319.3 179.0 L1320.2 180.9 L1321.2 182.7 L1322.3 184.5 L1323.4 186.2 L1324.6 187.9 L1325.9 189.6 L1327.1 191.2 L1328.5 192.6 L1329.9 194.0 L1331.5 195.4 L1333.1 196.6 L1334.7 197.9 L1336.4 199.1 L1338.1 200.4 L1339.8 201.7 L1341.3 203.0 L1342.8 204.4 L1344.2 205.9 L1345.6 207.4 L1346.9 209.0 L1348.2 210.6 L1348.1 208.9 L1348.0 207.3 L1347.8 205.6 L1347.5 204.0 L1347.3 202.4 L1346.9 200.8 L1346.4 199.2 L1345.8 197.7 L1345.2 196.1 L1344.7 194.5 L1344.4 192.9 L1344.0 191.3 L1343.7 189.7 L1343.5 188.0 L1343.3 186.4 L1343.2 184.8 L1343.2 183.1 L1343.2 181.5 L1343.2 179.8 L1343.1 178.2 L1343.1 176.5 L1343.1 174.9 L1343.1 173.2 L1343.1 171.6 L1343.1 169.9 L1343.1 168.3 L1343.1 166.6 L1343.1 165.0 L1343.1 163.3 L1343.1 161.6 L1343.1 160.0 L1343.1 158.3 L1343.1 156.7 L1343.1 155.0 L1343.1 153.4 L1343.1 151.7 L1343.1 150.1 L1343.1 148.4 L1343.2 146.8 L1343.2 145.1 L1343.2 143.5 L1343.2 141.8 L1343.3 140.2 L1343.5 138.6 L1343.7 136.9 L1344.0 135.3 L1344.4 133.7 L1344.7 132.1 L1345.2 130.5 L1345.8 128.9 L1346.4 127.4 L1346.9 125.8 L1347.3 124.2 L1347.5 122.6 L1347.8 121.0 L1348.0 119.3 L1348.1 117.7 L1348.2 116.0Z" fill="#93d8e1" stroke="#111" stroke-width="1.25" stroke-linejoin="round"/>
<path d="M894.5 163.5 H1612.0" stroke="#2a2a2a" stroke-width="1" fill="none"/>
<path d="M1409.4 72.5 L1409.6 75.1 L1409.8 77.7 L1409.9 80.3 L1410.1 82.9 L1410.1 85.5 L1410.2 88.1 L1410.2 90.7 L1410.2 93.3 L1410.1 95.9 L1410.1 98.5 L1410.0 101.1 L1410.0 103.7 L1409.9 106.3 L1409.8 108.9 L1409.7 111.5 L1409.6 114.1 L1409.5 116.6 L1409.5 119.2 L1409.4 121.8 L1409.3 124.4 L1409.2 127.0 L1409.1 129.6 L1409.0 132.2 L1408.9 134.8 L1408.8 137.4 L1408.8 140.0 L1408.9 142.6 L1409.1 145.2 L1409.5 147.8 L1410.0 150.3 L1410.5 152.9 L1410.8 155.5 L1411.2 158.0 L1411.5 160.6 L1411.8 163.2 L1412.1 165.8 L1412.3 168.4 L1412.5 171.0 L1412.7 173.6 L1413.0 176.1" fill="none" stroke="#e5222b" stroke-width="2.3" stroke-linejoin="round" stroke-linecap="round"/>
<path d="M1413.0 176.1 L1413.2 178.7 L1413.6 181.3 L1413.9 183.9 L1414.3 186.5 L1414.7 189.0 L1415.1 191.6 L1415.5 194.2 L1415.9 196.7 L1416.4 199.3 L1417.0 201.8 L1417.7 204.3 L1418.5 206.8 L1419.6 209.1 L1420.9 211.4 L1422.3 213.6 L1423.9 215.6 L1425.7 217.6 L1427.3 219.6 L1428.6 221.8 L1429.8 224.1 L1430.9 226.5 L1431.8 228.9 L1432.6 231.4 L1433.4 233.9 L1434.3 236.3 L1435.2 238.8 L1436.1 241.2 L1437.0 243.6 L1437.9 246.1 L1438.6 248.6 L1439.4 251.1 L1440.1 253.6 L1440.9 256.1 L1441.6 258.5 L1442.4 261.0 L1443.1 263.5 L1443.8 266.0 L1444.6 268.5 L1445.3 271.0" fill="none" stroke="#e5222b" stroke-width="3.3" stroke-linejoin="round" stroke-linecap="butt"/>
<rect x="894.5" y="54.5" width="717.5" height="217.0" fill="none" stroke="#111" stroke-width="2.2"/>
<text x="1195.2" y="252.8" font-family="'Liberation Sans','DejaVu Sans',sans-serif" font-size="21" fill="#231f20" text-anchor="middle">0</text>
<text x="1341.3" y="252.8" font-family="'Liberation Sans','DejaVu Sans',sans-serif" font-size="21" fill="#231f20" text-anchor="middle">1</text>
<text x="1461" y="252.8" font-family="'Liberation Sans','DejaVu Sans',sans-serif" font-size="21" fill="#231f20" text-anchor="middle">−2</text>
<text x="1579" y="252.8" font-family="'Liberation Sans','DejaVu Sans',sans-serif" font-size="21" fill="#231f20" text-anchor="middle">1</text>
<text x="892.5" y="301.6" font-family="'Liberation Sans','DejaVu Sans',sans-serif" font-size="25" fill="#231f20" text-anchor="middle">0</text>
<text x="1012.1" y="301.6" font-family="'Liberation Sans','DejaVu Sans',sans-serif" font-size="25" fill="#231f20" text-anchor="middle">1</text>
<text x="1131.7" y="301.6" font-family="'Liberation Sans','DejaVu Sans',sans-serif" font-size="25" fill="#231f20" text-anchor="middle">2</text>
<text x="1251.2" y="301.6" font-family="'Liberation Sans','DejaVu Sans',sans-serif" font-size="25" fill="#231f20" text-anchor="middle">3</text>
<text x="1370.8" y="301.6" font-family="'Liberation Sans','DejaVu Sans',sans-serif" font-size="25" fill="#231f20" text-anchor="middle">4</text>
<text x="1490.4" y="301.6" font-family="'Liberation Sans','DejaVu Sans',sans-serif" font-size="25" fill="#231f20" text-anchor="middle">5</text>
<text x="1610.0" y="301.6" font-family="'Liberation Sans','DejaVu Sans',sans-serif" font-size="25" fill="#231f20" text-anchor="middle">6</text>
<text x="886.3" y="61.3" font-family="'Liberation Sans','DejaVu Sans',sans-serif" font-size="25" fill="#231f20" text-anchor="end">−0.5</text>
<text x="886.3" y="171" font-family="'Liberation Sans','DejaVu Sans',sans-serif" font-size="25" fill="#231f20" text-anchor="end">0</text>
<text x="886.3" y="282" font-family="'Liberation Sans','DejaVu Sans',sans-serif" font-size="25" fill="#231f20" text-anchor="end">0.5</text>
<text x="1253.3" y="331.3" font-family="'Liberation Sans','DejaVu Sans',sans-serif" font-size="25.3" fill="#231f20" text-anchor="middle">Frequency (GHz)</text>
<text transform="translate(832.3 163.7) rotate(-90)" font-family="'Liberation Sans','DejaVu Sans',sans-serif" font-size="25.1" fill="#231f20" text-anchor="middle">Wavevector (2π/<tspan font-style="italic">a</tspan>)</text>
<text transform="translate(810.9 32.8) scale(0.96 1.035)" font-family="'Liberation Sans','DejaVu Sans',sans-serif" font-size="43" font-weight="bold" fill="#000">E</text>
</g>
<g id="panelF">
<defs><filter id="fb4" filterUnits="userSpaceOnUse" x="820" y="370" width="460" height="260"><feGaussianBlur stdDeviation="3.4"/></filter><filter id="fb6" filterUnits="userSpaceOnUse" x="820" y="370" width="460" height="260"><feGaussianBlur stdDeviation="5.5"/></filter><clipPath id="fclip"><rect x="836" y="393" width="418.3" height="220"/></clipPath></defs>
<g clip-path="url(#fclip)">
<g filter="url(#fb6)">
<ellipse cx="1027" cy="436" rx="15" ry="9" fill="#8fb0de" opacity="0.34"/>
<ellipse cx="1012" cy="428" rx="7" ry="7" fill="#a9c0e6" opacity="0.3"/>
<ellipse cx="1043" cy="430" rx="7" ry="7" fill="#a9c0e6" opacity="0.3"/>
<ellipse cx="1097" cy="438" rx="18" ry="10" fill="#f5a9a9" opacity="0.34"/>
<ellipse cx="1080" cy="430" rx="7" ry="6" fill="#f7bcbc" opacity="0.3"/>
<ellipse cx="1113" cy="430" rx="7" ry="6" fill="#f7bcbc" opacity="0.3"/>
<ellipse cx="1170" cy="438" rx="20" ry="10" fill="#8fb0de" opacity="0.34"/>
<ellipse cx="1150" cy="430" rx="8" ry="7" fill="#a9c0e6" opacity="0.35"/>
<ellipse cx="1190" cy="432" rx="8" ry="7" fill="#a9c0e6" opacity="0.35"/>
<ellipse cx="1250" cy="438" rx="13" ry="12" fill="#f5a9a9" opacity="0.5"/>
<ellipse cx="1062" cy="424" rx="7" ry="5" fill="#c9d6ee" opacity="0.4"/>
<ellipse cx="1135" cy="425" rx="7" ry="5" fill="#f7cfcf" opacity="0.35"/>
<ellipse cx="1215" cy="426" rx="10" ry="7" fill="#b9cbea" opacity="0.5"/>
<ellipse cx="985" cy="422" rx="8" ry="6" fill="#c9d6ee" opacity="0.35"/>
<ellipse cx="1162" cy="405.5" rx="16" ry="8" fill="#f48a8a" opacity="0.95"/>
<ellipse cx="1198" cy="414" rx="6" ry="6" fill="#f7b0b0" opacity="0.6"/>
</g>
<g filter="url(#fb4)">
<ellipse cx="1026" cy="406" rx="21" ry="7.5" fill="#f47c7c" opacity="0.95"/>
<ellipse cx="1004" cy="411" rx="5.5" ry="8" fill="#f58686" opacity="0.9"/>
<ellipse cx="1045" cy="411.5" rx="5.5" ry="6" fill="#f69292" opacity="0.85"/>
<ellipse cx="1012" cy="404" rx="7" ry="4" fill="#f26a6a" opacity="0.6"/>
<ellipse cx="1097" cy="406" rx="22" ry="8" fill="#2f66be"/>
<ellipse cx="1076.5" cy="411.5" rx="5.5" ry="7" fill="#3b6fc2" opacity="0.95"/>
<ellipse cx="1119" cy="411.5" rx="5.5" ry="7" fill="#3b6fc2" opacity="0.95"/>
<ellipse cx="1183.5" cy="408.5" rx="11.5" ry="9.5" fill="#ee1c24"/>
<ellipse cx="1183.5" cy="407.5" rx="7.5" ry="6" fill="#ee1c24"/>
<ellipse cx="1171" cy="405.5" rx="9" ry="6" fill="#f25a5a" opacity="0.75"/>
<ellipse cx="1258" cy="410.5" rx="13" ry="11" fill="#2a64be"/>
<ellipse cx="1260" cy="410.5" rx="9" ry="7.5" fill="#2460bd"/>
</g>
</g>
<g fill="#f4ed80" stroke="#aaa474" stroke-width="0.9"><circle cx="850.6" cy="418.6" r="3.25"/><circle cx="885.5" cy="418.6" r="3.25"/><circle cx="920.4" cy="418.6" r="3.25"/><circle cx="955.3" cy="418.6" r="3.25"/><circle cx="990.2" cy="418.6" r="3.25"/><circle cx="1025.1" cy="418.6" r="3.25"/><circle cx="1060.0" cy="418.6" r="3.25"/><circle cx="1094.9" cy="418.6" r="3.25"/><circle cx="1129.8" cy="418.6" r="3.25"/><circle cx="1164.7" cy="418.6" r="3.25"/><circle cx="1199.6" cy="418.6" r="3.25"/><circle cx="1234.5" cy="418.6" r="3.25"/><circle cx="850.6" cy="453.8" r="3.25"/><circle cx="885.5" cy="453.8" r="3.25"/><circle cx="920.4" cy="453.8" r="3.25"/><circle cx="955.3" cy="453.8" r="3.25"/><circle cx="990.2" cy="453.8" r="3.25"/><circle cx="1025.1" cy="453.8" r="3.25"/><circle cx="1060.0" cy="453.8" r="3.25"/><circle cx="1094.9" cy="453.8" r="3.25"/><circle cx="1129.8" cy="453.8" r="3.25"/><circle cx="1164.7" cy="453.8" r="3.25"/><circle cx="1199.6" cy="453.8" r="3.25"/><circle cx="1234.5" cy="453.8" r="3.25"/><circle cx="850.6" cy="489.0" r="3.25"/><circle cx="885.5" cy="489.0" r="3.25"/><circle cx="920.4" cy="489.0" r="3.25"/><circle cx="955.3" cy="489.0" r="3.25"/><circle cx="990.2" cy="489.0" r="3.25"/><circle cx="1025.1" cy="489.0" r="3.25"/><circle cx="1060.0" cy="489.0" r="3.25"/><circle cx="1094.9" cy="489.0" r="3.25"/><circle cx="1129.8" cy="489.0" r="3.25"/><circle cx="1164.7" cy="489.0" r="3.25"/><circle cx="1199.6" cy="489.0" r="3.25"/><circle cx="1234.5" cy="489.0" r="3.25"/><circle cx="850.6" cy="524.3" r="3.25"/><circle cx="885.5" cy="524.3" r="3.25"/><circle cx="920.4" cy="524.3" r="3.25"/><circle cx="955.3" cy="524.3" r="3.25"/><circle cx="990.2" cy="524.3" r="3.25"/><circle cx="1025.1" cy="524.3" r="3.25"/><circle cx="1060.0" cy="524.3" r="3.25"/><circle cx="1094.9" cy="524.3" r="3.25"/><circle cx="1129.8" cy="524.3" r="3.25"/><circle cx="1164.7" cy="524.3" r="3.25"/><circle cx="1199.6" cy="524.3" r="3.25"/><circle cx="1234.5" cy="524.3" r="3.25"/><circle cx="850.6" cy="559.5" r="3.25"/><circle cx="885.5" cy="559.5" r="3.25"/><circle cx="920.4" cy="559.5" r="3.25"/><circle cx="955.3" cy="559.5" r="3.25"/><circle cx="990.2" cy="559.5" r="3.25"/><circle cx="1025.1" cy="559.5" r="3.25"/><circle cx="1060.0" cy="559.5" r="3.25"/><circle cx="1094.9" cy="559.5" r="3.25"/><circle cx="1129.8" cy="559.5" r="3.25"/><circle cx="1164.7" cy="559.5" r="3.25"/><circle cx="1199.6" cy="559.5" r="3.25"/><circle cx="1234.5" cy="559.5" r="3.25"/><circle cx="850.6" cy="594.7" r="3.25"/><circle cx="885.5" cy="594.7" r="3.25"/><circle cx="920.4" cy="594.7" r="3.25"/><circle cx="955.3" cy="594.7" r="3.25"/><circle cx="990.2" cy="594.7" r="3.25"/><circle cx="1025.1" cy="594.7" r="3.25"/><circle cx="1060.0" cy="594.7" r="3.25"/><circle cx="1094.9" cy="594.7" r="3.25"/><circle cx="1129.8" cy="594.7" r="3.25"/><circle cx="1164.7" cy="594.7" r="3.25"/><circle cx="1199.6" cy="594.7" r="3.25"/><circle cx="1234.5" cy="594.7" r="3.25"/></g>
<rect x="835" y="390.6" width="419.3" height="3.9" fill="#111"/>
<path d="M1007.6 394.8 L1009.4 399.6 L1014.4 399.8 L1010.5 402.9 L1011.8 407.8 L1007.6 405.0 L1003.4 407.8 L1004.7 402.9 L1000.8 399.8 L1005.8 399.6Z" fill="#8fdfe3" stroke="#7fa6ad" stroke-width="0.8" stroke-linejoin="miter"/>
<text transform="translate(1007.2 384) scale(0.97 1.09)" font-family="'Liberation Sans','DejaVu Sans',sans-serif" font-size="21" fill="#2e3192" text-anchor="middle">A</text>
<path d="M1101.6 468.8 H1152" stroke="#111" stroke-width="2.2" fill="none"/>
<path d="M1164.8 468.8 L1145.2 460.6 L1152.3 468.8 L1145.2 477 Z" fill="#111"/>
<text transform="translate(812.4 373.6) scale(0.94 1.035)" font-family="'Liberation Sans','DejaVu Sans',sans-serif" font-size="43" font-weight="bold" fill="#000">F</text>
</g>
<g id="panelG">
<clipPath id="gclip"><rect x="1354.4" y="374.4" width="293.5" height="235.5"/></clipPath>
<rect x="1484.3" y="374.4" width="68" height="235.5" fill="#fcefa1"/>
<g clip-path="url(#gclip)" fill="none" stroke-linejoin="round">
<path d="M1354.0 402.0 L1354.4 402.7 L1354.8 403.3 L1355.2 403.6 L1355.6 403.7 L1356.0 403.4 L1356.4 402.9 L1356.8 402.3 L1357.2 401.6 L1357.6 401.0 L1358.0 400.7 L1358.4 400.6 L1358.8 400.9 L1359.2 401.4 L1359.6 402.1 L1360.0 402.8 L1360.4 403.4 L1360.8 403.8 L1361.2 403.9 L1361.6 403.7 L1362.0 403.2 L1362.4 402.6 L1362.8 401.9 L1363.2 401.2 L1363.6 400.8 L1364.0 400.7 L1364.4 400.9 L1364.8 401.3 L1365.2 402.0 L1365.6 402.6 L1366.0 403.3 L1366.4 403.7 L1366.8 403.8 L1367.2 403.6 L1367.6 403.1 L1368.0 402.4 L1368.4 401.5 L1368.8 400.7 L1369.2 400.1 L1369.6 399.6 L1370.0 399.5 L1370.4 399.7 L1370.8 400.1 L1371.2 400.6 L1371.6 401.0 L1372.0 401.3 L1372.4 401.3 L1372.8 401.1 L1373.2 400.5 L1373.6 399.8 L1374.0 398.9 L1374.4 398.1 L1374.8 397.4 L1375.2 396.9 L1375.6 396.7 L1376.0 396.9 L1376.4 397.2 L1376.8 397.7 L1377.2 398.2 L1377.6 398.6 L1378.0 398.7 L1378.4 398.5 L1378.8 398.1 L1379.2 397.4 L1379.6 396.6 L1380.0 395.9 L1380.4 395.2 L1380.8 394.8 L1381.2 394.7 L1381.6 395.0 L1382.0 395.5 L1382.4 396.1 L1382.8 396.8 L1383.2 397.4 L1383.6 397.8 L1384.0 398.0 L1384.4 397.8 L1384.8 397.3 L1385.2 396.7 L1385.6 396.0 L1386.0 395.4 L1386.4 395.0 L1386.8 394.9 L1387.2 395.1 L1387.6 395.6 L1388.0 396.3 L1388.4 397.0 L1388.8 397.7 L1389.2 398.2 L1389.6 398.4 L1390.0 398.3 L1390.4 397.9 L1390.8 397.4 L1391.2 396.7 L1391.6 396.1 L1392.0 395.7 L1392.4 395.6 L1392.8 395.8 L1393.2 396.3 L1393.6 397.0 L1394.0 397.8 L1394.4 398.6 L1394.8 399.2 L1395.2 399.6 L1395.6 399.7 L1396.0 399.6 L1396.4 399.2 L1396.8 398.7 L1397.2 398.2 L1397.6 397.8 L1398.0 397.7 L1398.4 398.0 L1398.8 398.5 L1399.2 399.2 L1399.6 400.1 L1400.0 401.0 L1400.4 401.7 L1400.8 402.3 L1401.2 402.5 L1401.6 402.5 L1402.0 402.2 L1402.4 401.8 L1402.8 401.4 L1403.2 401.1 L1403.6 401.1 L1404.0 401.3 L1404.4 401.9 L1404.8 402.7 L1405.2 403.7 L1405.6 404.7 L1406.0 405.7 L1406.4 406.4 L1406.8 406.8 L1407.2 407.0 L1407.6 406.8 L1408.0 406.5 L1408.4 406.2 L1408.8 405.9 L1409.2 405.9 L1409.6 406.1 L1410.0 406.6 L1410.4 407.4 L1410.8 408.3 L1411.2 409.3 L1411.6 410.3 L1412.0 411.0 L1412.4 411.5 L1412.8 411.7 L1413.2 411.6 L1413.6 411.2 L1414.0 410.8 L1414.4 410.5 L1414.8 410.3 L1415.2 410.4 L1415.6 410.7 L1416.0 411.4 L1416.4 412.3 L1416.8 413.3 L1417.2 414.2 L1417.6 415.0 L1418.0 415.5 L1418.4 415.7 L1418.8 415.6 L1419.2 415.3 L1419.6 415.0 L1420.0 414.7 L1420.4 414.5 L1420.8 414.6 L1421.2 414.9 L1421.6 415.5 L1422.0 416.2 L1422.4 417.1 L1422.8 417.9 L1423.2 418.6 L1423.6 419.2 L1424.0 419.4 L1424.4 419.5 L1424.8 419.4 L1425.2 419.2 L1425.6 418.9 L1426.0 418.8 L1426.4 418.9 L1426.8 419.2 L1427.2 419.7 L1427.6 420.3 L1428.0 421.0 L1428.4 421.8 L1428.8 422.4 L1429.2 423.0 L1429.6 423.3 L1430.0 423.5 L1430.4 423.5 L1430.8 423.5 L1431.2 423.5 L1431.6 423.5 L1432.0 423.7 L1432.4 424.0 L1432.8 424.5 L1433.2 425.1 L1433.6 425.7 L1434.0 426.4 L1434.4 427.1 L1434.8 427.7 L1435.2 428.1 L1435.6 428.5 L1436.0 428.7 L1436.4 428.9 L1436.8 429.1 L1437.2 429.4 L1437.6 429.7 L1438.0 430.1 L1438.4 430.6 L1438.8 431.3 L1439.2 431.9 L1439.6 432.6 L1440.0 433.3 L1440.4 434.0 L1440.8 434.6 L1441.2 435.1 L1441.6 435.6 L1442.0 436.1 L1442.4 436.6 L1442.8 437.1 L1443.2 437.7 L1443.6 438.3 L1444.0 439.0 L1444.4 439.7 L1444.8 440.5 L1445.2 441.3 L1445.6 442.1 L1446.0 442.8 L1446.4 443.7 L1446.8 444.5 L1447.2 445.3 L1447.6 446.2 L1448.0 447.2 L1448.4 448.3 L1448.8 449.5 L1449.2 450.7 L1449.6 451.8 L1450.0 452.9 L1450.4 453.8 L1450.8 454.6 L1451.2 455.5 L1451.6 456.4 L1452.0 457.2 L1452.4 458.0 L1452.8 458.6 L1453.2 459.1 L1453.6 459.4 L1454.0 459.3 L1454.4 458.9 L1454.8 458.0 L1455.2 456.8 L1455.6 455.5 L1456.0 454.1 L1456.4 452.6 L1456.8 451.0 L1457.2 449.0 L1457.6 446.8 L1458.0 444.3 L1458.4 441.7 L1458.8 438.7 L1459.2 435.0 L1459.6 431.2 L1460.0 428.0 L1460.4 425.4 L1460.8 423.0 L1461.2 420.8 L1461.6 418.7 L1462.0 416.9 L1462.4 415.3 L1462.8 414.0 L1463.2 412.6 L1463.6 411.2 L1464.0 410.0 L1464.4 408.9 L1464.8 408.1 L1465.2 407.5 L1465.6 407.3 L1466.0 407.5 L1466.4 408.0 L1466.8 408.8 L1467.2 409.7 L1467.6 410.7 L1468.0 411.5 L1468.4 412.4 L1468.8 413.5 L1469.2 414.6 L1469.6 415.6 L1470.0 416.5 L1470.4 416.9 L1470.8 416.9 L1471.2 416.4 L1471.6 415.4 L1472.0 414.2 L1472.4 412.9 L1472.8 411.6 L1473.2 410.4 L1473.6 409.3 L1474.0 408.0 L1474.4 406.8 L1474.8 405.6 L1475.2 404.4 L1475.6 403.0 L1476.0 401.5 L1476.4 400.1 L1476.8 398.9 L1477.2 398.2 L1477.6 398.0 L1478.0 398.7 L1478.4 399.9 L1478.8 401.3 L1479.2 402.7 L1479.6 404.3 L1480.0 406.0 L1480.4 408.0 L1480.8 410.0 L1481.2 412.3 L1481.6 414.7 L1482.0 417.2 L1482.4 419.8 L1482.8 422.6 L1483.2 425.5 L1483.6 428.5 L1484.0 431.5 L1484.4 434.3 L1484.8 437.4 L1485.2 441.1 L1485.6 446.0 L1486.0 455.0 L1486.4 467.2 L1486.8 480.4 L1487.2 483.8 L1487.6 482.1 L1488.0 479.6 L1488.4 477.0 L1488.8 475.0 L1489.2 473.5 L1489.6 472.0 L1490.0 470.8 L1490.4 470.1 L1490.8 470.1 L1491.2 471.0 L1491.6 472.5 L1492.0 474.3 L1492.4 476.2 L1492.8 478.0 L1493.2 480.0 L1493.6 482.3 L1494.0 484.7 L1494.4 486.7 L1494.8 487.8 L1495.2 487.6 L1495.6 484.6 L1496.0 480.0 L1496.4 475.1 L1496.8 470.6 L1497.2 465.5 L1497.6 460.4 L1498.0 455.7 L1498.4 451.0 L1498.8 446.5 L1499.2 442.1 L1499.6 437.8 L1500.0 433.3 L1500.4 428.7 L1500.8 424.3 L1501.2 420.3 L1501.6 416.9 L1502.0 414.5 L1502.4 412.4 L1502.8 410.7 L1503.2 409.2 L1503.6 408.0 L1504.0 407.0 L1504.4 406.1 L1504.8 405.2 L1505.2 404.6 L1505.6 404.4 L1506.0 404.6 L1506.4 405.3 L1506.8 406.2 L1507.2 407.2 L1507.6 408.5 L1508.0 410.4 L1508.4 412.6 L1508.8 415.0 L1509.2 417.7 L1509.6 420.8 L1510.0 424.1 L1510.4 427.3 L1510.8 430.5 L1511.2 434.0 L1511.6 436.7 L1512.0 437.3 L1512.4 433.7 L1512.8 427.4 L1513.2 421.2 L1513.6 416.5 L1514.0 411.9 L1514.4 407.5 L1514.8 403.9 L1515.2 401.2 L1515.6 398.8 L1516.0 396.6 L1516.4 394.5 L1516.8 392.6 L1517.2 390.9 L1517.6 389.4 L1518.0 388.2 L1518.4 387.1 L1518.8 386.3 L1519.2 385.6 L1519.6 385.0 L1520.0 384.4 L1520.4 384.0 L1520.8 383.7 L1521.2 383.5 L1521.6 383.5 L1522.0 383.7 L1522.4 384.1 L1522.8 384.4 L1523.2 384.9 L1523.6 385.3 L1524.0 385.7 L1524.4 386.1 L1524.8 386.6 L1525.2 387.1 L1525.6 387.6 L1526.0 388.3 L1526.4 389.0 L1526.8 389.9 L1527.2 391.1 L1527.6 392.5 L1528.0 394.0 L1528.4 395.6 L1528.8 397.3 L1529.2 399.0 L1529.6 400.8 L1530.0 402.5 L1530.4 404.2 L1530.8 406.1 L1531.2 408.0 L1531.6 409.9 L1532.0 412.0 L1532.4 414.0 L1532.8 416.1 L1533.2 418.2 L1533.6 420.3 L1534.0 422.4 L1534.4 424.5 L1534.8 426.5 L1535.2 428.5 L1535.6 430.3 L1536.0 432.0 L1536.4 433.6 L1536.8 435.3 L1537.2 437.0 L1537.6 438.9 L1538.0 441.0 L1538.4 443.3 L1538.8 446.0 L1539.2 449.8 L1539.6 454.6 L1540.0 458.8 L1540.4 462.1 L1540.8 465.1 L1541.2 468.0 L1541.6 470.7 L1542.0 473.2 L1542.4 475.7 L1542.8 478.1 L1543.2 480.4 L1543.6 482.7 L1544.0 484.9 L1544.4 487.0 L1544.8 488.9 L1545.2 490.7 L1545.6 492.5 L1546.0 494.3 L1546.4 496.2 L1546.8 498.3 L1547.2 500.6 L1547.6 503.2 L1548.0 506.1 L1548.4 509.4 L1548.8 513.1 L1549.2 517.4 L1549.6 522.3 L1550.0 527.9 L1550.4 535.1 L1550.8 545.0 L1551.2 564.0 L1551.5 540.0 L1552.3 500.0 L1553.5 446.0 L1555.4 415.0 L1557.9 392.5 L1561.0 375.6 L1563.0 366.0" stroke="#2c54a6" stroke-width="1.55"/>
<path d="M1595.5 366.0 L1595.9 367.8 L1596.3 369.9 L1596.7 372.0 L1597.1 374.4 L1597.5 376.9 L1597.9 379.8 L1598.3 382.9 L1598.7 386.0 L1599.1 388.8 L1599.5 391.5 L1599.9 394.3 L1600.3 396.9 L1600.7 399.4 L1601.1 401.5 L1601.5 403.2 L1601.9 404.4 L1602.3 405.6 L1602.7 406.6 L1603.1 407.2 L1603.5 407.5 L1603.9 407.2 L1604.3 406.4 L1604.7 405.4 L1605.1 404.4 L1605.5 403.6 L1605.9 402.7 L1606.3 401.7 L1606.7 400.8 L1607.1 400.2 L1607.5 399.9 L1607.9 399.6 L1608.3 399.3 L1608.7 399.1 L1609.1 398.9 L1609.5 398.7 L1609.9 398.6 L1610.3 398.5 L1610.7 398.4 L1611.1 398.4 L1611.5 398.5 L1611.9 398.6 L1612.3 398.8 L1612.7 399.0 L1613.1 399.2 L1613.5 399.5 L1613.9 399.8 L1614.3 400.3 L1614.7 400.8 L1615.1 401.3 L1615.5 401.9 L1615.9 402.4 L1616.3 402.8 L1616.7 403.3 L1617.1 403.8 L1617.5 404.2 L1617.9 404.7 L1618.3 405.1 L1618.7 405.6 L1619.1 406.0 L1619.5 406.4 L1619.9 406.9 L1620.3 407.3 L1620.7 407.7 L1621.1 408.1 L1621.5 408.5 L1621.9 408.9 L1622.3 409.3 L1622.7 409.7 L1623.1 410.1 L1623.5 410.6 L1623.9 411.0 L1624.3 411.3 L1624.7 411.6 L1625.1 411.9 L1625.5 412.0 L1625.9 412.2 L1626.3 412.3 L1626.7 412.5 L1627.1 412.8 L1627.5 413.2 L1627.9 413.7 L1628.3 414.2 L1628.7 414.7 L1629.1 415.0 L1629.5 415.3 L1629.9 415.4 L1630.3 415.4 L1630.7 415.4 L1631.1 415.3 L1631.5 415.3 L1631.9 415.4 L1632.3 415.6 L1632.7 415.9 L1633.1 416.2 L1633.5 416.7 L1633.9 417.1 L1634.3 417.5 L1634.7 417.8 L1635.1 417.9 L1635.5 418.0 L1635.9 417.9 L1636.3 417.8 L1636.7 417.7 L1637.1 417.7 L1637.5 417.7 L1637.9 417.9 L1638.3 418.3 L1638.7 418.7 L1639.1 419.2 L1639.5 419.6 L1639.9 420.0 L1640.3 420.3 L1640.7 420.5 L1641.1 420.5 L1641.5 420.5 L1641.9 420.5 L1642.3 420.4 L1642.7 420.5 L1643.1 420.7 L1643.5 420.9 L1643.9 421.3 L1644.3 421.8 L1644.7 422.3 L1645.1 422.8 L1645.5 423.2 L1645.9 423.5 L1646.3 423.7 L1646.7 423.8 L1647.1 423.8 L1647.5 423.8 L1647.9 423.8" stroke="#2c54a6" stroke-width="1.55"/>
<path d="M1354.0 397.2 L1354.4 397.8 L1354.8 398.5 L1355.2 399.4 L1355.6 400.2 L1356.0 400.7 L1356.4 401.1 L1356.8 401.1 L1357.2 400.8 L1357.6 400.4 L1358.0 399.9 L1358.4 399.4 L1358.8 399.0 L1359.2 398.9 L1359.6 399.1 L1360.0 399.5 L1360.4 400.0 L1360.8 400.7 L1361.2 401.4 L1361.6 401.9 L1362.0 402.1 L1362.4 402.1 L1362.8 401.8 L1363.2 401.3 L1363.6 400.7 L1364.0 400.0 L1364.4 399.6 L1364.8 399.3 L1365.2 399.3 L1365.6 399.6 L1366.0 400.2 L1366.4 400.8 L1366.8 401.4 L1367.2 401.8 L1367.6 402.0 L1368.0 401.8 L1368.4 401.4 L1368.8 400.6 L1369.2 399.7 L1369.6 398.8 L1370.0 398.0 L1370.4 397.3 L1370.8 396.9 L1371.2 396.8 L1371.6 397.0 L1372.0 397.3 L1372.4 397.6 L1372.8 397.9 L1373.2 397.9 L1373.6 397.7 L1374.0 397.3 L1374.4 396.6 L1374.8 395.8 L1375.2 394.9 L1375.6 394.0 L1376.0 393.4 L1376.4 393.0 L1376.8 392.9 L1377.2 393.0 L1377.6 393.4 L1378.0 393.8 L1378.4 394.2 L1378.8 394.3 L1379.2 394.3 L1379.6 394.0 L1380.0 393.4 L1380.4 392.7 L1380.8 391.9 L1381.2 391.2 L1381.6 390.6 L1382.0 390.3 L1382.4 390.3 L1382.8 390.6 L1383.2 391.1 L1383.6 391.7 L1384.0 392.2 L1384.4 392.6 L1384.8 392.8 L1385.2 392.6 L1385.6 392.2 L1386.0 391.6 L1386.4 390.9 L1386.8 390.2 L1387.2 389.7 L1387.6 389.4 L1388.0 389.3 L1388.4 389.6 L1388.8 390.1 L1389.2 390.7 L1389.6 391.3 L1390.0 391.8 L1390.4 392.1 L1390.8 392.1 L1391.2 391.8 L1391.6 391.3 L1392.0 390.7 L1392.4 390.1 L1392.8 389.5 L1393.2 389.3 L1393.6 389.2 L1394.0 389.5 L1394.4 390.0 L1394.8 390.7 L1395.2 391.4 L1395.6 392.0 L1396.0 392.4 L1396.4 392.6 L1396.8 392.5 L1397.2 392.1 L1397.6 391.6 L1398.0 391.0 L1398.4 390.6 L1398.8 390.4 L1399.2 390.4 L1399.6 390.8 L1400.0 391.4 L1400.4 392.2 L1400.8 393.1 L1401.2 393.9 L1401.6 394.6 L1402.0 395.0 L1402.4 395.1 L1402.8 395.0 L1403.2 394.7 L1403.6 394.4 L1404.0 394.2 L1404.4 394.1 L1404.8 394.3 L1405.2 394.9 L1405.6 395.7 L1406.0 396.7 L1406.4 397.9 L1406.8 399.0 L1407.2 400.0 L1407.6 400.7 L1408.0 401.2 L1408.4 401.4 L1408.8 401.4 L1409.2 401.2 L1409.6 401.1 L1410.0 401.1 L1410.4 401.3 L1410.8 401.8 L1411.2 402.6 L1411.6 403.5 L1412.0 404.5 L1412.4 405.6 L1412.8 406.4 L1413.2 407.0 L1413.6 407.4 L1414.0 407.4 L1414.4 407.2 L1414.8 406.8 L1415.2 406.4 L1415.6 406.1 L1416.0 406.0 L1416.4 406.2 L1416.8 406.7 L1417.2 407.4 L1417.6 408.3 L1418.0 409.2 L1418.4 410.0 L1418.8 410.7 L1419.2 411.0 L1419.6 411.1 L1420.0 411.0 L1420.4 410.7 L1420.8 410.4 L1421.2 410.2 L1421.6 410.2 L1422.0 410.6 L1422.4 411.2 L1422.8 412.2 L1423.2 413.4 L1423.6 414.6 L1424.0 415.8 L1424.4 416.9 L1424.8 417.7 L1425.2 418.2 L1425.6 418.4 L1426.0 418.5 L1426.4 418.4 L1426.8 418.4 L1427.2 418.5 L1427.6 418.9 L1428.0 419.6 L1428.4 420.7 L1428.8 421.9 L1429.2 423.2 L1429.6 424.4 L1430.0 425.4 L1430.4 426.1 L1430.8 426.3 L1431.2 426.1 L1431.6 425.5 L1432.0 424.7 L1432.4 423.8 L1432.8 423.0 L1433.2 422.3 L1433.6 421.9 L1434.0 421.8 L1434.4 422.0 L1434.8 422.2 L1435.2 422.3 L1435.6 422.3 L1436.0 422.1 L1436.4 421.6 L1436.8 420.7 L1437.2 419.7 L1437.6 418.4 L1438.0 417.2 L1438.4 416.0 L1438.8 415.0 L1439.2 414.3 L1439.6 413.8 L1440.0 413.5 L1440.4 413.4 L1440.8 413.3 L1441.2 413.1 L1441.6 412.7 L1442.0 412.0 L1442.4 411.0 L1442.8 409.8 L1443.2 408.5 L1443.6 407.1 L1444.0 405.8 L1444.4 404.7 L1444.8 403.8 L1445.2 403.3 L1445.6 403.1 L1446.0 403.0 L1446.4 403.0 L1446.8 403.0 L1447.2 402.7 L1447.6 402.2 L1448.0 401.5 L1448.4 400.4 L1448.8 399.2 L1449.2 398.0 L1449.6 396.8 L1450.0 395.8 L1450.4 395.0 L1450.8 394.5 L1451.2 394.2 L1451.6 394.1 L1452.0 394.0 L1452.4 393.9 L1452.8 393.6 L1453.2 393.2 L1453.6 392.5 L1454.0 391.6 L1454.4 390.7 L1454.8 389.6 L1455.2 388.6 L1455.6 387.8 L1456.0 387.1 L1456.4 386.5 L1456.8 386.1 L1457.2 385.8 L1457.6 385.6 L1458.0 385.3 L1458.4 384.9 L1458.8 384.4 L1459.2 383.8 L1459.6 383.1 L1460.0 382.3 L1460.4 381.5 L1460.8 380.7 L1461.2 380.1 L1461.6 379.5 L1462.0 379.1 L1462.4 378.7 L1462.8 378.5 L1463.2 378.2 L1463.6 378.0 L1464.0 377.7 L1464.4 377.4 L1464.8 377.3 L1465.2 377.2 L1465.6 377.1 L1466.0 377.0 L1466.4 377.0 L1466.8 376.9 L1467.2 376.9 L1467.6 377.1 L1468.0 377.6 L1468.4 378.4 L1468.8 379.3 L1469.2 380.4 L1469.6 381.5 L1470.0 382.5 L1470.4 383.5 L1470.8 384.5 L1471.2 385.5 L1471.6 386.6 L1472.0 387.7 L1472.4 388.9 L1472.8 390.1 L1473.2 391.3 L1473.6 392.6 L1474.0 394.0 L1474.4 395.3 L1474.8 396.8 L1475.2 398.2 L1475.6 399.8 L1476.0 401.5 L1476.4 403.2 L1476.8 405.0 L1477.2 406.9 L1477.6 408.8 L1478.0 410.8 L1478.4 412.9 L1478.8 414.9 L1479.2 417.0 L1479.6 419.2 L1480.0 421.3 L1480.4 423.5 L1480.8 425.8 L1481.2 428.2 L1481.6 430.7 L1482.0 433.1 L1482.4 435.7 L1482.8 438.1 L1483.2 440.6 L1483.6 443.0 L1484.0 445.2 L1484.4 447.5 L1484.8 449.8 L1485.2 452.2 L1485.6 454.8 L1486.0 457.6 L1486.4 460.9 L1486.8 464.8 L1487.2 469.3 L1487.6 474.1 L1488.0 478.8 L1488.4 483.4 L1488.8 488.0 L1489.2 492.6 L1489.6 497.4 L1490.0 502.5 L1490.4 508.0 L1490.8 513.8 L1491.2 519.6 L1491.6 525.4 L1492.0 531.5 L1492.4 537.7 L1492.8 543.8 L1493.2 549.3 L1493.6 554.0 L1494.0 557.8 L1494.4 561.2 L1494.8 564.1 L1495.2 566.5 L1495.8 590.5 L1496.2 577.9 L1496.6 581.4 L1497.1 584.2 L1497.5 603.1 L1497.9 582.8 L1498.3 583.2 L1498.7 573.0 L1499.2 589.7 L1499.6 573.4 L1500.0 579.6 L1500.4 582.0 L1500.8 585.6 L1501.3 580.6 L1501.7 580.3 L1502.1 596.0 L1502.5 584.4 L1502.9 581.6 L1503.4 582.2 L1503.8 571.1 L1504.2 589.9 L1504.6 580.7 L1505.0 565.5 L1505.5 591.4 L1505.9 578.6 L1506.3 569.9 L1506.7 599.0 L1507.1 564.3 L1507.6 584.2 L1508.0 575.2 L1508.4 573.1 L1508.8 583.9 L1509.2 567.5 L1509.7 580.7 L1510.1 565.2 L1510.5 564.4 L1510.9 570.7 L1511.3 600.6 L1511.8 588.9 L1512.2 576.6 L1512.6 583.9 L1513.0 578.0 L1513.4 582.7 L1513.9 575.0 L1514.3 569.4 L1514.7 569.0 L1515.1 582.3 L1515.5 593.5 L1516.0 567.6 L1516.4 577.0 L1516.8 591.6 L1517.2 581.5 L1517.6 580.6 L1518.1 581.5 L1518.5 579.1 L1518.9 577.9 L1519.3 571.1 L1519.7 582.6 L1520.2 578.9 L1520.6 595.9 L1521.0 577.0 L1521.4 566.0 L1521.8 578.4 L1522.3 589.0 L1522.7 576.4 L1523.1 573.3 L1523.5 571.3 L1523.9 572.1 L1524.4 576.4 L1524.8 571.0 L1525.2 598.1 L1525.6 576.2 L1526.0 578.5 L1526.5 586.4 L1526.9 566.9 L1527.3 576.3 L1527.7 579.5 L1528.1 581.8 L1528.6 576.2 L1529.0 566.6 L1529.4 581.1 L1529.8 597.6 L1530.2 579.6 L1530.7 571.5 L1531.1 575.9 L1531.5 573.5 L1531.9 575.2 L1532.3 565.8 L1532.8 586.2 L1533.2 581.0 L1533.6 580.3 L1534.0 581.1 L1534.4 597.0 L1534.9 576.6 L1535.3 573.1 L1535.7 576.8 L1536.1 590.8 L1536.5 582.5 L1537.0 575.3 L1537.4 574.6 L1537.8 566.5 L1538.2 579.8 L1538.6 580.0 L1539.1 593.1 L1539.5 580.8 L1539.9 574.5 L1540.3 586.6 L1540.7 579.1 L1541.2 588.6 L1541.6 575.6 L1542.0 576.8 L1542.4 580.4 L1542.8 585.1 L1543.3 566.5 L1543.7 601.8 L1544.1 580.2 L1544.5 579.4 L1544.9 576.8 L1545.4 575.6 L1545.8 590.1 L1546.2 577.4 L1546.6 574.8 L1547.0 583.9 L1547.5 581.0 L1547.9 579.8 L1548.3 603.0 L1548.7 570.2 L1549.1 582.8 L1549.6 586.6 L1550.0 582.6 L1550.4 577.3 L1550.8 578.9 L1551.2 578.1 L1551.7 582.6 L1552.1 574.9 L1552.5 570.5 L1552.9 599.4 L1553.3 573.6 L1553.8 570.0 L1554.2 568.2 L1554.6 577.5 L1555.0 584.8 L1555.4 578.7 L1555.9 575.2 L1556.3 574.5 L1556.7 578.9 L1557.1 580.3 L1557.5 601.3 L1558.0 580.3 L1558.4 572.8 L1558.8 582.1 L1559.2 571.2 L1559.6 570.1 L1560.1 586.1 L1560.5 588.4 L1560.9 592.1 L1561.3 564.9 L1561.7 563.5 L1562.1 562.9 L1562.5 561.3 L1562.9 559.1 L1563.3 556.4 L1563.7 554.7 L1564.1 551.4 L1564.5 548.7 L1564.9 544.1 L1565.3 539.3 L1565.7 535.8 L1566.1 533.5 L1566.5 531.2 L1566.9 530.2 L1567.3 528.3 L1567.7 527.6 L1568.1 526.4 L1568.5 524.4 L1568.9 524.0 L1569.3 522.5 L1569.7 521.9 L1570.1 520.5 L1570.5 519.2 L1570.9 518.6 L1571.3 516.5 L1571.7 516.0 L1572.1 514.7 L1572.5 513.3 L1572.9 513.1 L1573.3 511.9 L1573.7 511.3 L1574.1 509.9 L1574.5 508.6 L1574.9 508.3 L1575.3 506.3 L1575.7 505.3 L1576.1 505.3 L1576.5 504.0 L1576.9 503.2 L1577.3 503.1 L1577.7 501.6 L1578.1 501.5 L1578.5 500.4 L1578.9 499.2 L1579.3 498.0 L1579.7 497.3 L1580.1 497.3 L1580.5 495.6 L1580.9 494.2 L1581.3 493.2 L1581.7 492.6 L1582.1 490.3 L1582.5 489.5 L1582.9 486.7 L1583.3 485.2 L1583.7 481.8 L1584.1 478.1 L1584.5 476.1 L1584.9 472.3 L1585.3 469.7 L1585.7 466.8 L1586.1 464.0 L1586.5 461.9 L1586.9 459.9 L1587.3 457.9 L1587.7 455.9 L1588.1 454.1 L1588.5 453.4 L1588.9 450.7 L1589.3 449.5 L1589.7 447.4 L1590.1 446.0 L1590.5 445.0 L1590.9 443.7 L1591.3 441.6 L1591.7 439.6 L1592.1 439.3 L1592.5 436.9 L1592.9 436.0 L1593.3 435.1 L1593.7 434.5 L1594.1 433.3 L1594.5 432.0 L1594.9 430.8 L1595.3 430.5 L1595.7 429.9 L1596.1 429.4 L1596.5 429.0 L1596.9 428.0 L1597.3 428.1 L1597.7 428.3 L1598.1 428.4 L1598.5 429.2 L1598.9 429.1 L1599.3 430.3 L1599.7 430.8 L1600.1 432.5 L1600.5 433.4 L1600.9 435.5 L1601.3 437.1 L1601.7 439.8 L1602.1 443.8 L1602.5 447.1 L1602.9 454.2 L1603.3 461.0 L1603.7 466.3 L1604.1 469.6 L1604.5 469.8 L1604.9 471.4 L1605.3 470.9 L1605.7 471.7 L1606.1 470.7 L1606.5 470.4 L1606.9 470.7 L1607.3 470.0 L1607.7 470.3 L1608.1 470.7 L1608.5 470.5 L1608.9 472.0 L1609.3 472.9 L1609.7 472.8 L1610.1 474.2 L1610.5 474.9 L1610.9 476.4 L1611.3 476.5 L1611.7 478.1 L1612.1 479.7 L1612.5 480.9 L1612.9 481.6 L1613.3 484.0 L1613.7 484.9 L1614.1 487.2 L1614.5 488.6 L1614.9 490.1 L1615.3 492.9 L1615.7 495.4 L1616.1 497.8 L1616.5 500.7 L1616.9 502.4 L1617.3 505.5 L1617.7 508.0 L1618.1 508.5 L1618.5 505.9 L1618.9 502.3 L1619.3 499.2 L1619.7 495.5 L1620.1 491.6 L1620.5 489.3 L1620.9 486.6 L1621.3 484.4 L1621.7 482.7 L1622.1 479.6 L1622.5 478.0 L1622.9 476.2 L1623.3 474.4 L1623.7 473.6 L1624.1 473.8 L1624.5 472.8 L1624.9 473.0 L1625.3 472.7 L1625.7 471.6 L1626.1 471.6 L1626.5 470.6 L1626.9 470.0 L1627.3 470.2 L1627.7 470.0 L1628.1 470.8 L1628.5 470.8 L1628.9 472.2 L1629.3 472.1 L1629.7 471.8 L1630.1 472.0 L1630.5 472.2 L1630.9 471.8 L1631.3 471.1 L1631.7 470.9 L1632.1 471.2 L1632.5 472.4 L1632.9 472.0 L1633.3 473.6 L1633.7 474.2 L1634.1 473.8 L1634.5 474.1 L1634.9 474.3 L1635.3 474.3 L1635.7 474.3 L1636.1 474.2 L1636.5 473.5 L1636.9 473.8 L1637.3 474.7 L1637.7 475.5 L1638.1 476.2 L1638.5 476.0 L1638.9 476.8 L1639.3 477.1 L1639.7 476.8 L1640.1 476.5 L1640.5 476.2 L1640.9 476.2 L1641.3 475.2 L1641.7 476.7 L1642.1 476.5 L1642.5 477.2 L1642.9 477.9 L1643.3 478.8 L1643.7 478.4 L1644.1 477.9 L1644.5 477.5 L1644.9 477.8 L1645.3 477.5 L1645.7 476.7 L1646.1 477.1 L1646.5 477.7 L1646.9 478.1 L1647.3 479.1 L1647.7 479.0" stroke="#dc1f2b" stroke-width="2.7"/>
</g>
<path d="M1354.4 374.4 H1647.9" stroke="#555" stroke-width="1.2" fill="none"/>
<path d="M1354.4 373.79999999999995 V609.9 H1647.9 V373.79999999999995" stroke="#111" stroke-width="1.9" fill="none"/>
<path d="M1413.0 374.4 v11 M1413.0 609.9 v-12 M1530.2 374.4 v11 M1530.2 609.9 v-12 M1354.4 452.5 h12 M1647.9 452.5 h-12 M1354.4 531.2 h12 M1647.9 531.2 h-12" stroke="#111" stroke-width="1.9" fill="none"/>
<text x="1350.2" y="380.2" font-family="'Liberation Sans','DejaVu Sans',sans-serif" font-size="14.8" fill="#231f20" text-anchor="end">0</text>
<text x="1350.2" y="459.4" font-family="'Liberation Sans','DejaVu Sans',sans-serif" font-size="14.8" fill="#231f20" text-anchor="end">−20</text>
<text x="1350.2" y="537.8" font-family="'Liberation Sans','DejaVu Sans',sans-serif" font-size="14.8" fill="#231f20" text-anchor="end">−40</text>
<text x="1350.2" y="617.2" font-family="'Liberation Sans','DejaVu Sans',sans-serif" font-size="14.8" fill="#231f20" text-anchor="end">−60</text>
<text x="1414.5" y="625.5" font-family="'Liberation Sans','DejaVu Sans',sans-serif" font-size="14.8" fill="#231f20" text-anchor="middle">4.0</text>
<text x="1532.2" y="625.5" font-family="'Liberation Sans','DejaVu Sans',sans-serif" font-size="14.8" fill="#231f20" text-anchor="middle">4.5</text>
<text x="1505.5" y="640.4" font-family="'Liberation Sans','DejaVu Sans',sans-serif" font-size="14.9" fill="#231f20" text-anchor="middle">Frequency (GHz)</text>
<text transform="translate(1316.8 497) rotate(-90)" font-family="'Liberation Sans','DejaVu Sans',sans-serif" font-size="14.9" fill="#231f20" text-anchor="middle">Transmission (dB)</text>
<text x="1365.4" y="493.8" font-family="'Liberation Sans','DejaVu Sans',sans-serif" font-size="15.1" fill="#231f20">Edge waveguide</text>
<path d="M1360.2 568.3 H1380.2" stroke="#2c5fb0" stroke-width="3" fill="none"/>
<path d="M1360.2 588 H1380.2" stroke="#dc1f2b" stroke-width="2.6" fill="none"/>
<text x="1382.9" y="573.2" font-family="'Liberation Sans','DejaVu Sans',sans-serif" font-size="13" fill="#3c66b0">Forwards, |<tspan font-style="italic">S</tspan><tspan font-size="9.3" dy="4.4" letter-spacing="-0.4">BA</tspan><tspan dy="-4.4">|</tspan><tspan font-size="9.3" dy="-4.6">2</tspan></text>
<text x="1381.6" y="592.6" font-family="'Liberation Sans','DejaVu Sans',sans-serif" font-size="13" fill="#d8303f">Backwards, |<tspan font-style="italic">S</tspan><tspan font-size="9.3" dy="4.4" letter-spacing="-0.4">AB</tspan><tspan dy="-4.4">|</tspan><tspan font-size="9.3" dy="-4.6">2</tspan></text>
<text transform="translate(1291.0 373.8) scale(0.985 1.05)" font-family="'Liberation Sans','DejaVu Sans',sans-serif" font-size="43" font-weight="bold" fill="#000">G</text>
</g>
</svg>
</body>
</html>
